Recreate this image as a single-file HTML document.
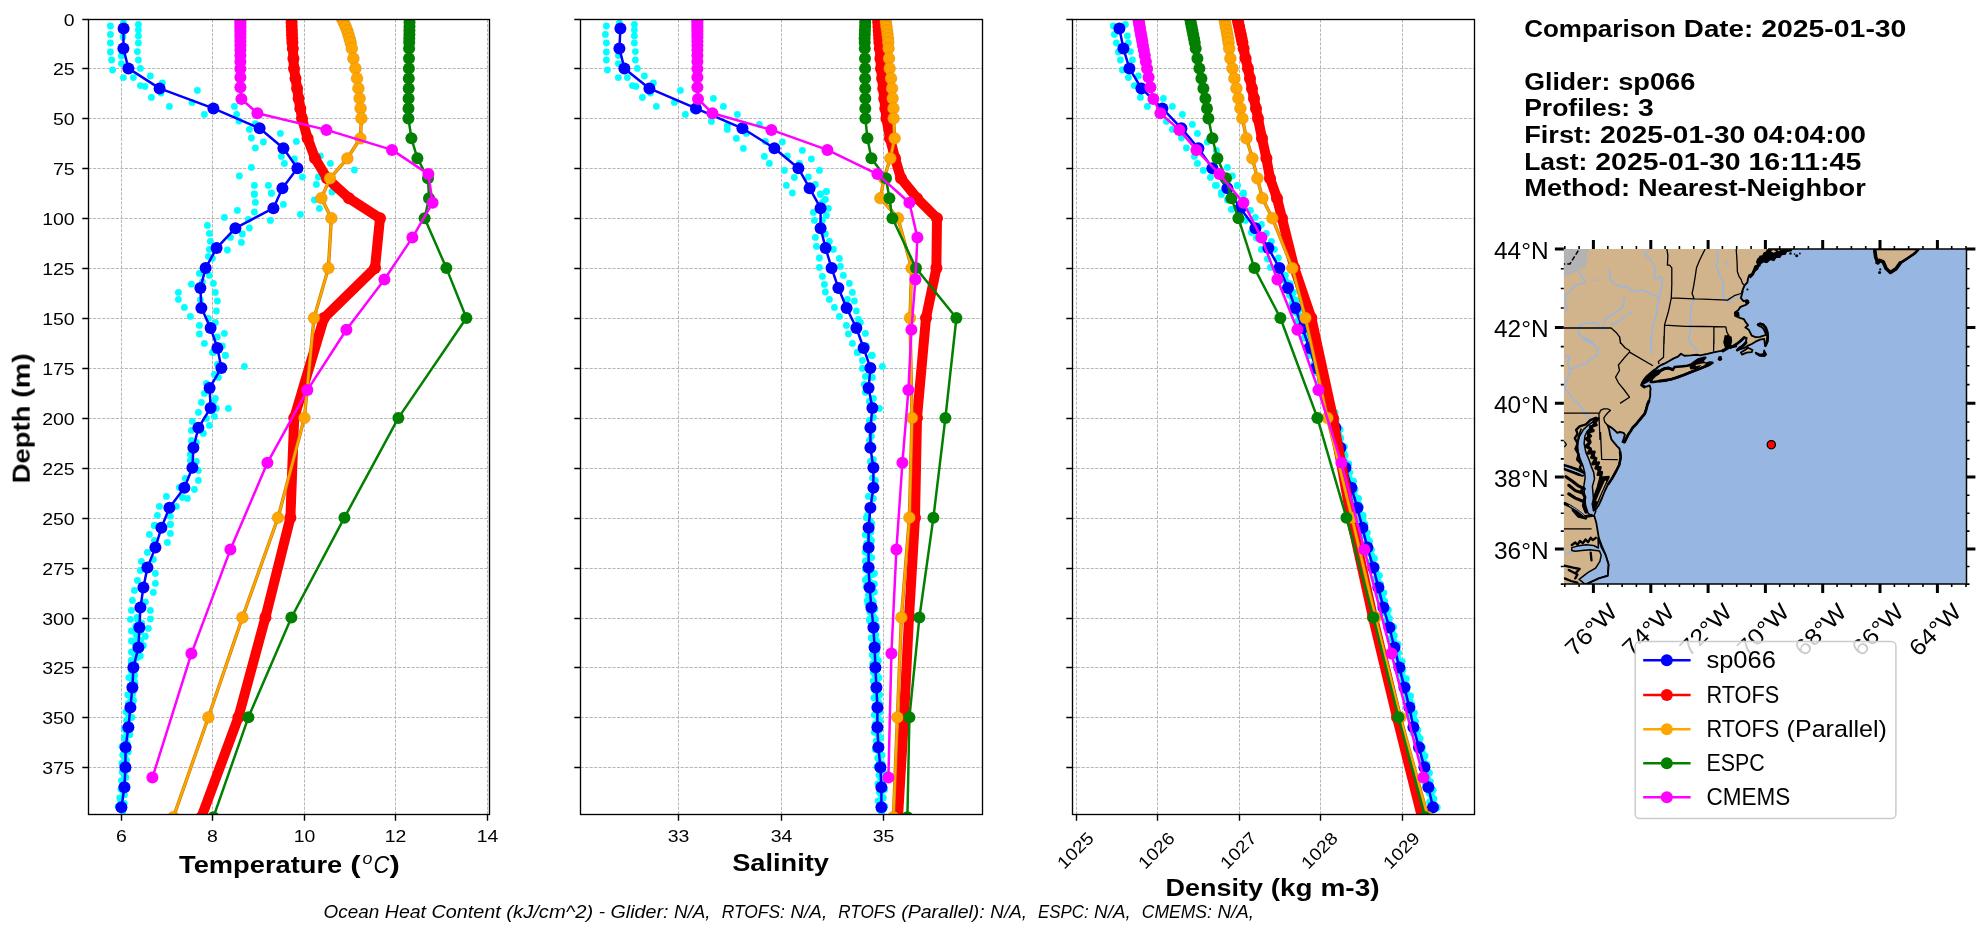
<!DOCTYPE html>
<html lang="en"><head><meta charset="utf-8"><title>Glider vs model profile comparison</title>
<style>html,body{margin:0;padding:0;background:#fff}svg{display:block}text{white-space:pre}</style></head>
<body>
<svg width="1980" height="934" viewBox="0 0 1980 934" font-family="'Liberation Sans', sans-serif">
<rect width="1980" height="934" fill="#fff"/>
<g opacity="0.999">
<clipPath id="cp1"><rect x="88.5" y="19.2" width="401.0" height="795.3"/></clipPath>
<g clip-path="url(#cp1)">
<path d="M121.5 19.5V814.5M212.5 19.5V814.5M304.5 19.5V814.5M395.5 19.5V814.5M487.5 19.5V814.5M88.5 68.5H489.5M88.5 118.5H489.5M88.5 168.5H489.5M88.5 218.5H489.5M88.5 268.5H489.5M88.5 318.5H489.5M88.5 368.5H489.5M88.5 418.5H489.5M88.5 468.5H489.5M88.5 518.5H489.5M88.5 568.5H489.5M88.5 618.5H489.5M88.5 667.5H489.5M88.5 717.5H489.5M88.5 767.5H489.5" stroke="#b0b0b0" stroke-width="0.9" stroke-dasharray="3.2 1.35" fill="none"/>
<g fill="#00ffff"><circle cx="110.4" cy="26.0" r="3.4"/><circle cx="110.4" cy="34.4" r="3.4"/><circle cx="110.4" cy="43.0" r="3.4"/><circle cx="110.4" cy="52.0" r="3.4"/><circle cx="111.6" cy="60.0" r="3.4"/><circle cx="112.6" cy="70.0" r="3.4"/><circle cx="123.4" cy="23.0" r="3.4"/><circle cx="123.0" cy="37.0" r="3.4"/><circle cx="121.4" cy="56.0" r="3.4"/><circle cx="121.4" cy="63.6" r="3.4"/><circle cx="138.4" cy="24.4" r="3.4"/><circle cx="138.4" cy="30.0" r="3.4"/><circle cx="138.4" cy="36.0" r="3.4"/><circle cx="138.4" cy="43.0" r="3.4"/><circle cx="137.4" cy="51.6" r="3.4"/><circle cx="138.4" cy="60.0" r="3.4"/><circle cx="140.4" cy="68.4" r="3.4"/><circle cx="123.4" cy="77.6" r="3.4"/><circle cx="133.4" cy="77.6" r="3.4"/><circle cx="150.4" cy="76.0" r="3.4"/><circle cx="140.4" cy="85.6" r="3.4"/><circle cx="145.0" cy="86.4" r="3.4"/><circle cx="162.4" cy="83.0" r="3.4"/><circle cx="161.0" cy="93.0" r="3.4"/><circle cx="151.4" cy="97.4" r="3.4"/><circle cx="169.4" cy="106.4" r="3.4"/><circle cx="197.4" cy="90.4" r="3.4"/><circle cx="192.0" cy="102.4" r="3.4"/><circle cx="204.4" cy="114.4" r="3.4"/><circle cx="234.4" cy="106.4" r="3.4"/><circle cx="236.6" cy="114.4" r="3.4"/><circle cx="239.0" cy="121.0" r="3.4"/><circle cx="255.4" cy="123.6" r="3.4"/><circle cx="249.4" cy="129.4" r="3.4"/><circle cx="251.4" cy="138.0" r="3.4"/><circle cx="263.4" cy="142.0" r="3.4"/><circle cx="255.4" cy="148.0" r="3.4"/><circle cx="280.4" cy="133.4" r="3.4"/><circle cx="296.4" cy="141.4" r="3.4"/><circle cx="281.4" cy="156.4" r="3.4"/><circle cx="284.4" cy="163.4" r="3.4"/><circle cx="294.4" cy="159.0" r="3.4"/><circle cx="251.4" cy="167.4" r="3.4"/><circle cx="239.4" cy="176.0" r="3.4"/><circle cx="302.4" cy="177.0" r="3.4"/><circle cx="320.4" cy="156.0" r="3.4"/><circle cx="330.4" cy="163.4" r="3.4"/><circle cx="354.4" cy="170.0" r="3.4"/><circle cx="318.4" cy="177.0" r="3.4"/><circle cx="316.4" cy="184.4" r="3.4"/><circle cx="254.4" cy="185.4" r="3.4"/><circle cx="268.4" cy="185.4" r="3.4"/><circle cx="254.4" cy="194.0" r="3.4"/><circle cx="271.4" cy="193.0" r="3.4"/><circle cx="332.0" cy="192.0" r="3.4"/><circle cx="254.4" cy="194.4" r="3.4"/><circle cx="271.4" cy="193.4" r="3.4"/><circle cx="255.4" cy="202.4" r="3.4"/><circle cx="283.4" cy="204.4" r="3.4"/><circle cx="237.4" cy="210.4" r="3.4"/><circle cx="254.4" cy="212.0" r="3.4"/><circle cx="224.4" cy="217.4" r="3.4"/><circle cx="248.4" cy="219.4" r="3.4"/><circle cx="270.4" cy="220.4" r="3.4"/><circle cx="300.4" cy="214.4" r="3.4"/><circle cx="332.4" cy="191.4" r="3.4"/><circle cx="314.4" cy="200.0" r="3.4"/><circle cx="319.4" cy="208.4" r="3.4"/><circle cx="207.4" cy="225.4" r="3.4"/><circle cx="249.4" cy="228.0" r="3.4"/><circle cx="209.4" cy="233.4" r="3.4"/><circle cx="242.4" cy="234.0" r="3.4"/><circle cx="230.4" cy="237.4" r="3.4"/><circle cx="210.4" cy="241.4" r="3.4"/><circle cx="241.4" cy="242.4" r="3.4"/><circle cx="209.4" cy="249.4" r="3.4"/><circle cx="227.4" cy="250.0" r="3.4"/><circle cx="208.4" cy="256.4" r="3.4"/><circle cx="212.4" cy="258.4" r="3.4"/><circle cx="199.4" cy="273.4" r="3.4"/><circle cx="209.4" cy="275.4" r="3.4"/><circle cx="191.4" cy="284.2" r="3.4"/><circle cx="213.4" cy="283.4" r="3.4"/><circle cx="202.4" cy="282.0" r="3.4"/><circle cx="178.4" cy="292.4" r="3.4"/><circle cx="215.4" cy="292.4" r="3.4"/><circle cx="178.4" cy="299.4" r="3.4"/><circle cx="217.4" cy="301.0" r="3.4"/><circle cx="200.4" cy="300.0" r="3.4"/><circle cx="184.4" cy="307.4" r="3.4"/><circle cx="216.4" cy="311.0" r="3.4"/><circle cx="190.4" cy="316.4" r="3.4"/><circle cx="208.4" cy="318.4" r="3.4"/><circle cx="199.4" cy="325.4" r="3.4"/><circle cx="215.4" cy="322.4" r="3.4"/><circle cx="199.4" cy="334.0" r="3.4"/><circle cx="224.4" cy="333.4" r="3.4"/><circle cx="217.4" cy="337.0" r="3.4"/><circle cx="204.4" cy="343.4" r="3.4"/><circle cx="222.4" cy="346.0" r="3.4"/><circle cx="213.4" cy="352.4" r="3.4"/><circle cx="225.4" cy="355.4" r="3.4"/><circle cx="212.4" cy="352.4" r="3.4"/><circle cx="225.4" cy="355.4" r="3.4"/><circle cx="244.4" cy="366.4" r="3.4"/><circle cx="217.4" cy="364.4" r="3.4"/><circle cx="214.4" cy="374.4" r="3.4"/><circle cx="218.4" cy="377.4" r="3.4"/><circle cx="206.4" cy="383.4" r="3.4"/><circle cx="204.4" cy="393.4" r="3.4"/><circle cx="215.4" cy="398.4" r="3.4"/><circle cx="201.4" cy="402.4" r="3.4"/><circle cx="213.4" cy="402.4" r="3.4"/><circle cx="228.4" cy="408.4" r="3.4"/><circle cx="216.4" cy="408.4" r="3.4"/><circle cx="198.4" cy="412.4" r="3.4"/><circle cx="214.4" cy="416.4" r="3.4"/><circle cx="192.4" cy="421.4" r="3.4"/><circle cx="206.4" cy="418.4" r="3.4"/><circle cx="209.4" cy="425.4" r="3.4"/><circle cx="191.4" cy="430.4" r="3.4"/><circle cx="203.4" cy="433.4" r="3.4"/><circle cx="191.4" cy="440.4" r="3.4"/><circle cx="196.4" cy="442.4" r="3.4"/><circle cx="190.4" cy="454.4" r="3.4"/><circle cx="190.4" cy="460.4" r="3.4"/><circle cx="196.4" cy="461.4" r="3.4"/><circle cx="198.4" cy="470.4" r="3.4"/><circle cx="185.4" cy="478.4" r="3.4"/><circle cx="198.4" cy="480.4" r="3.4"/><circle cx="179.4" cy="487.4" r="3.4"/><circle cx="194.4" cy="489.4" r="3.4"/><circle cx="166.4" cy="496.4" r="3.4"/><circle cx="182.4" cy="497.4" r="3.4"/><circle cx="187.4" cy="498.4" r="3.4"/><circle cx="159.4" cy="506.4" r="3.4"/><circle cx="176.4" cy="506.4" r="3.4"/><circle cx="157.4" cy="515.4" r="3.4"/><circle cx="170.4" cy="516.4" r="3.4"/><circle cx="154.4" cy="525.4" r="3.4"/><circle cx="170.4" cy="524.4" r="3.4"/><circle cx="154.4" cy="525.4" r="3.4"/><circle cx="170.4" cy="524.4" r="3.4"/><circle cx="149.4" cy="534.4" r="3.4"/><circle cx="170.4" cy="533.4" r="3.4"/><circle cx="167.4" cy="542.4" r="3.4"/><circle cx="154.4" cy="540.4" r="3.4"/><circle cx="147.4" cy="552.4" r="3.4"/><circle cx="141.4" cy="561.4" r="3.4"/><circle cx="153.4" cy="559.4" r="3.4"/><circle cx="140.4" cy="570.4" r="3.4"/><circle cx="155.4" cy="573.4" r="3.4"/><circle cx="137.4" cy="580.4" r="3.4"/><circle cx="155.4" cy="583.4" r="3.4"/><circle cx="134.4" cy="590.4" r="3.4"/><circle cx="153.4" cy="592.4" r="3.4"/><circle cx="132.4" cy="600.4" r="3.4"/><circle cx="145.4" cy="602.0" r="3.4"/><circle cx="131.4" cy="610.4" r="3.4"/><circle cx="150.4" cy="610.4" r="3.4"/><circle cx="130.4" cy="619.4" r="3.4"/><circle cx="150.4" cy="619.0" r="3.4"/><circle cx="131.4" cy="631.0" r="3.4"/><circle cx="148.4" cy="628.4" r="3.4"/><circle cx="131.4" cy="641.0" r="3.4"/><circle cx="145.4" cy="636.4" r="3.4"/><circle cx="131.4" cy="652.0" r="3.4"/><circle cx="143.4" cy="645.4" r="3.4"/><circle cx="140.4" cy="656.0" r="3.4"/><circle cx="131.4" cy="663.0" r="3.4"/><circle cx="134.4" cy="676.0" r="3.4"/><circle cx="134.4" cy="682.0" r="3.4"/><circle cx="132.4" cy="695.0" r="3.4"/><circle cx="137.1" cy="617.5" r="3.4"/><circle cx="135.8" cy="626.1" r="3.4"/><circle cx="136.4" cy="634.7" r="3.4"/><circle cx="134.8" cy="643.3" r="3.4"/><circle cx="134.8" cy="651.9" r="3.4"/><circle cx="131.2" cy="660.4" r="3.4"/><circle cx="130.9" cy="669.0" r="3.4"/><circle cx="128.9" cy="677.6" r="3.4"/><circle cx="130.1" cy="686.2" r="3.4"/><circle cx="127.7" cy="694.8" r="3.4"/><circle cx="128.4" cy="703.4" r="3.4"/><circle cx="126.0" cy="711.9" r="3.4"/><circle cx="126.6" cy="720.5" r="3.4"/><circle cx="124.3" cy="729.1" r="3.4"/><circle cx="124.3" cy="737.7" r="3.4"/><circle cx="122.0" cy="746.3" r="3.4"/><circle cx="122.7" cy="754.9" r="3.4"/><circle cx="121.9" cy="763.5" r="3.4"/><circle cx="122.2" cy="772.0" r="3.4"/><circle cx="121.4" cy="780.6" r="3.4"/><circle cx="120.9" cy="789.2" r="3.4"/><circle cx="119.7" cy="797.8" r="3.4"/><circle cx="118.1" cy="806.4" r="3.4"/><circle cx="138.0" cy="620.3" r="3.4"/><circle cx="139.1" cy="628.9" r="3.4"/><circle cx="137.1" cy="637.5" r="3.4"/><circle cx="138.2" cy="646.1" r="3.4"/><circle cx="134.9" cy="654.6" r="3.4"/><circle cx="134.0" cy="663.2" r="3.4"/><circle cx="131.7" cy="671.8" r="3.4"/><circle cx="132.2" cy="680.4" r="3.4"/><circle cx="130.9" cy="689.0" r="3.4"/><circle cx="130.6" cy="697.6" r="3.4"/><circle cx="129.4" cy="706.2" r="3.4"/><circle cx="128.7" cy="714.7" r="3.4"/><circle cx="127.9" cy="723.3" r="3.4"/><circle cx="126.6" cy="731.9" r="3.4"/><circle cx="125.8" cy="740.5" r="3.4"/><circle cx="124.2" cy="749.1" r="3.4"/><circle cx="125.0" cy="757.7" r="3.4"/><circle cx="123.9" cy="766.3" r="3.4"/><circle cx="124.6" cy="774.8" r="3.4"/><circle cx="122.9" cy="783.4" r="3.4"/><circle cx="123.4" cy="792.0" r="3.4"/><circle cx="120.6" cy="800.6" r="3.4"/><circle cx="121.2" cy="809.2" r="3.4"/><circle cx="141.7" cy="623.1" r="3.4"/><circle cx="140.8" cy="631.7" r="3.4"/><circle cx="140.6" cy="640.3" r="3.4"/><circle cx="139.9" cy="648.9" r="3.4"/><circle cx="137.5" cy="657.4" r="3.4"/><circle cx="135.8" cy="666.0" r="3.4"/><circle cx="134.5" cy="674.6" r="3.4"/><circle cx="134.9" cy="683.2" r="3.4"/><circle cx="133.2" cy="691.8" r="3.4"/><circle cx="133.5" cy="700.4" r="3.4"/><circle cx="131.4" cy="709.0" r="3.4"/><circle cx="131.9" cy="717.5" r="3.4"/><circle cx="129.6" cy="726.1" r="3.4"/><circle cx="129.9" cy="734.7" r="3.4"/><circle cx="127.2" cy="743.3" r="3.4"/><circle cx="128.2" cy="751.9" r="3.4"/><circle cx="126.5" cy="760.5" r="3.4"/><circle cx="127.9" cy="769.1" r="3.4"/><circle cx="126.0" cy="777.6" r="3.4"/><circle cx="126.9" cy="786.2" r="3.4"/><circle cx="124.5" cy="794.8" r="3.4"/><circle cx="124.3" cy="803.4" r="3.4"/><circle cx="122.8" cy="812.0" r="3.4"/></g>
<polyline points="123.6,28.5 123.4,48.5 128.4,68.4 159.6,88.4 213.4,108.4 259.6,128.3 283.4,148.3 297.4,168.3 282.4,188.2 273.4,208.2 235.4,228.2 216.6,248.1 205.6,268.1 200.4,288.1 201.4,308.0 210.6,328.0 217.4,348.0 221.4,367.9 209.6,387.9 210.6,407.9 198.4,427.8 193.4,447.8 192.4,467.8 184.4,487.7 169.4,507.7 161.4,527.7 155.4,547.6 147.4,567.6 143.4,587.6 140.4,607.5 139.4,627.5 138.4,647.5 133.4,667.4 132.4,687.4 130.4,707.4 128.4,727.3 125.6,747.3 125.4,767.3 124.4,787.2 121.4,807.2" fill="none" stroke="#0000ff" stroke-width="2.5" stroke-linejoin="round"/><g fill="#0000ff"><circle cx="123.6" cy="28.5" r="6"/><circle cx="123.4" cy="48.5" r="6"/><circle cx="128.4" cy="68.4" r="6"/><circle cx="159.6" cy="88.4" r="6"/><circle cx="213.4" cy="108.4" r="6"/><circle cx="259.6" cy="128.3" r="6"/><circle cx="283.4" cy="148.3" r="6"/><circle cx="297.4" cy="168.3" r="6"/><circle cx="282.4" cy="188.2" r="6"/><circle cx="273.4" cy="208.2" r="6"/><circle cx="235.4" cy="228.2" r="6"/><circle cx="216.6" cy="248.1" r="6"/><circle cx="205.6" cy="268.1" r="6"/><circle cx="200.4" cy="288.1" r="6"/><circle cx="201.4" cy="308.0" r="6"/><circle cx="210.6" cy="328.0" r="6"/><circle cx="217.4" cy="348.0" r="6"/><circle cx="221.4" cy="367.9" r="6"/><circle cx="209.6" cy="387.9" r="6"/><circle cx="210.6" cy="407.9" r="6"/><circle cx="198.4" cy="427.8" r="6"/><circle cx="193.4" cy="447.8" r="6"/><circle cx="192.4" cy="467.8" r="6"/><circle cx="184.4" cy="487.7" r="6"/><circle cx="169.4" cy="507.7" r="6"/><circle cx="161.4" cy="527.7" r="6"/><circle cx="155.4" cy="547.6" r="6"/><circle cx="147.4" cy="567.6" r="6"/><circle cx="143.4" cy="587.6" r="6"/><circle cx="140.4" cy="607.5" r="6"/><circle cx="139.4" cy="627.5" r="6"/><circle cx="138.4" cy="647.5" r="6"/><circle cx="133.4" cy="667.4" r="6"/><circle cx="132.4" cy="687.4" r="6"/><circle cx="130.4" cy="707.4" r="6"/><circle cx="128.4" cy="727.3" r="6"/><circle cx="125.6" cy="747.3" r="6"/><circle cx="125.4" cy="767.3" r="6"/><circle cx="124.4" cy="787.2" r="6"/><circle cx="121.4" cy="807.2" r="6"/></g>
<polyline points="291.4,18.5 291.6,22.5 291.7,26.5 291.9,30.5 292.0,34.5 292.2,38.5 292.4,42.5 292.8,48.5 293.4,58.5 294.0,68.4 295.5,78.4 297.1,88.4 298.6,98.4 300.3,108.4 302.0,118.4 307.6,138.3 315.0,158.3 327.0,178.3 349.0,198.2 380.0,218.2 375.0,268.1 324.0,318.0 294.2,417.9 290.4,517.7 265.4,617.5 238.4,717.3 201.4,817.2" fill="none" stroke="#ff0000" stroke-width="10" stroke-linejoin="round"/><g fill="#ff0000"><circle cx="291.4" cy="18.5" r="6"/><circle cx="291.6" cy="22.5" r="6"/><circle cx="291.7" cy="26.5" r="6"/><circle cx="291.9" cy="30.5" r="6"/><circle cx="292.0" cy="34.5" r="6"/><circle cx="292.2" cy="38.5" r="6"/><circle cx="292.4" cy="42.5" r="6"/><circle cx="292.8" cy="48.5" r="6"/><circle cx="293.4" cy="58.5" r="6"/><circle cx="294.0" cy="68.4" r="6"/><circle cx="295.5" cy="78.4" r="6"/><circle cx="297.1" cy="88.4" r="6"/><circle cx="298.6" cy="98.4" r="6"/><circle cx="300.3" cy="108.4" r="6"/><circle cx="302.0" cy="118.4" r="6"/><circle cx="307.6" cy="138.3" r="6"/><circle cx="315.0" cy="158.3" r="6"/><circle cx="327.0" cy="178.3" r="6"/><circle cx="349.0" cy="198.2" r="6"/><circle cx="380.0" cy="218.2" r="6"/><circle cx="375.0" cy="268.1" r="6"/><circle cx="324.0" cy="318.0" r="6"/><circle cx="294.2" cy="417.9" r="6"/><circle cx="290.4" cy="517.7" r="6"/><circle cx="265.4" cy="617.5" r="6"/><circle cx="238.4" cy="717.3" r="6"/><circle cx="201.4" cy="817.2" r="6"/></g>
<polyline points="342.0,18.5 343.8,22.5 345.6,26.5 347.2,30.5 348.4,34.5 349.6,38.5 350.6,42.5 351.8,48.5 353.4,58.5 355.4,68.4 357.0,78.4 358.4,88.4 359.6,98.4 360.6,108.4 361.4,118.4 360.4,138.3 347.4,158.3 330.0,178.3 321.4,198.2 331.4,218.2 328.4,268.1 314.0,318.0 304.4,417.9 278.0,517.7 242.4,617.5 208.4,717.3 173.4,817.2" fill="none" stroke="#c27c00" stroke-width="3.4" stroke-linejoin="round"/><polyline points="342.0,18.5 343.8,22.5 345.6,26.5 347.2,30.5 348.4,34.5 349.6,38.5 350.6,42.5 351.8,48.5 353.4,58.5 355.4,68.4 357.0,78.4 358.4,88.4 359.6,98.4 360.6,108.4 361.4,118.4 360.4,138.3 347.4,158.3 330.0,178.3 321.4,198.2 331.4,218.2 328.4,268.1 314.0,318.0 304.4,417.9 278.0,517.7 242.4,617.5 208.4,717.3 173.4,817.2" fill="none" stroke="#ffa500" stroke-width="2.2" stroke-linejoin="round"/><g fill="#ffa500" stroke="#cf8600" stroke-width="0.4"><circle cx="342.0" cy="18.5" r="5.9"/><circle cx="343.8" cy="22.5" r="5.9"/><circle cx="345.6" cy="26.5" r="5.9"/><circle cx="347.2" cy="30.5" r="5.9"/><circle cx="348.4" cy="34.5" r="5.9"/><circle cx="349.6" cy="38.5" r="5.9"/><circle cx="350.6" cy="42.5" r="5.9"/><circle cx="351.8" cy="48.5" r="5.9"/><circle cx="353.4" cy="58.5" r="5.9"/><circle cx="355.4" cy="68.4" r="5.9"/><circle cx="357.0" cy="78.4" r="5.9"/><circle cx="358.4" cy="88.4" r="5.9"/><circle cx="359.6" cy="98.4" r="5.9"/><circle cx="360.6" cy="108.4" r="5.9"/><circle cx="361.4" cy="118.4" r="5.9"/><circle cx="360.4" cy="138.3" r="5.9"/><circle cx="347.4" cy="158.3" r="5.9"/><circle cx="330.0" cy="178.3" r="5.9"/><circle cx="321.4" cy="198.2" r="5.9"/><circle cx="331.4" cy="218.2" r="5.9"/><circle cx="328.4" cy="268.1" r="5.9"/><circle cx="314.0" cy="318.0" r="5.9"/><circle cx="304.4" cy="417.9" r="5.9"/><circle cx="278.0" cy="517.7" r="5.9"/><circle cx="242.4" cy="617.5" r="5.9"/><circle cx="208.4" cy="717.3" r="5.9"/><circle cx="173.4" cy="817.2" r="5.9"/></g>
<polyline points="409.6,18.5 409.5,22.5 409.5,26.5 409.4,30.5 409.4,34.5 409.3,38.5 409.2,42.5 409.1,48.5 409.0,58.5 408.9,68.4 408.8,78.4 408.7,88.4 408.6,98.4 408.5,108.4 408.4,118.4 411.4,138.3 417.4,158.3 428.0,178.3 429.0,198.2 424.6,218.2 446.4,268.1 466.4,318.0 398.4,417.9 344.4,517.7 291.4,617.5 248.4,717.3 213.4,817.2" fill="none" stroke="#008000" stroke-width="2.5" stroke-linejoin="round"/><g fill="#008000"><circle cx="409.6" cy="18.5" r="6"/><circle cx="409.5" cy="22.5" r="6"/><circle cx="409.5" cy="26.5" r="6"/><circle cx="409.4" cy="30.5" r="6"/><circle cx="409.4" cy="34.5" r="6"/><circle cx="409.3" cy="38.5" r="6"/><circle cx="409.2" cy="42.5" r="6"/><circle cx="409.1" cy="48.5" r="6"/><circle cx="409.0" cy="58.5" r="6"/><circle cx="408.9" cy="68.4" r="6"/><circle cx="408.8" cy="78.4" r="6"/><circle cx="408.7" cy="88.4" r="6"/><circle cx="408.6" cy="98.4" r="6"/><circle cx="408.5" cy="108.4" r="6"/><circle cx="408.4" cy="118.4" r="6"/><circle cx="411.4" cy="138.3" r="6"/><circle cx="417.4" cy="158.3" r="6"/><circle cx="428.0" cy="178.3" r="6"/><circle cx="429.0" cy="198.2" r="6"/><circle cx="424.6" cy="218.2" r="6"/><circle cx="446.4" cy="268.1" r="6"/><circle cx="466.4" cy="318.0" r="6"/><circle cx="398.4" cy="417.9" r="6"/><circle cx="344.4" cy="517.7" r="6"/><circle cx="291.4" cy="617.5" r="6"/><circle cx="248.4" cy="717.3" r="6"/><circle cx="213.4" cy="817.2" r="6"/></g>
<polyline points="240.4,19.5 240.4,21.6 240.4,23.8 240.4,26.2 240.4,28.7 240.4,31.4 240.4,34.4 240.4,37.6 240.4,41.3 240.4,45.4 240.4,50.1 240.4,55.5 240.4,61.7 240.4,68.8 240.4,77.2 240.4,87.2 241.4,99.0 257.4,113.2 326.4,129.9 392.0,149.9 428.4,174.1 432.6,202.8 412.4,237.6 384.4,279.5 346.4,329.8 307.4,390.1 267.4,462.8 230.4,549.6 191.4,653.6 152.4,777.6" fill="none" stroke="#ff00ff" stroke-width="2.5" stroke-linejoin="round"/><g fill="#ff00ff"><circle cx="240.4" cy="19.5" r="6"/><circle cx="240.4" cy="21.6" r="6"/><circle cx="240.4" cy="23.8" r="6"/><circle cx="240.4" cy="26.2" r="6"/><circle cx="240.4" cy="28.7" r="6"/><circle cx="240.4" cy="31.4" r="6"/><circle cx="240.4" cy="34.4" r="6"/><circle cx="240.4" cy="37.6" r="6"/><circle cx="240.4" cy="41.3" r="6"/><circle cx="240.4" cy="45.4" r="6"/><circle cx="240.4" cy="50.1" r="6"/><circle cx="240.4" cy="55.5" r="6"/><circle cx="240.4" cy="61.7" r="6"/><circle cx="240.4" cy="68.8" r="6"/><circle cx="240.4" cy="77.2" r="6"/><circle cx="240.4" cy="87.2" r="6"/><circle cx="241.4" cy="99.0" r="6"/><circle cx="257.4" cy="113.2" r="6"/><circle cx="326.4" cy="129.9" r="6"/><circle cx="392.0" cy="149.9" r="6"/><circle cx="428.4" cy="174.1" r="6"/><circle cx="432.6" cy="202.8" r="6"/><circle cx="412.4" cy="237.6" r="6"/><circle cx="384.4" cy="279.5" r="6"/><circle cx="346.4" cy="329.8" r="6"/><circle cx="307.4" cy="390.1" r="6"/><circle cx="267.4" cy="462.8" r="6"/><circle cx="230.4" cy="549.6" r="6"/><circle cx="191.4" cy="653.6" r="6"/><circle cx="152.4" cy="777.6" r="6"/></g>
</g>
<rect x="88.5" y="19.5" width="401.0" height="795.0" fill="none" stroke="#000" stroke-width="1.35"/>
<path d="M121.5 814.5v6.2M212.5 814.5v6.2M304.5 814.5v6.2M395.5 814.5v6.2M487.5 814.5v6.2M88.5 19.5h-6.2M88.5 68.5h-6.2M88.5 118.5h-6.2M88.5 168.5h-6.2M88.5 218.5h-6.2M88.5 268.5h-6.2M88.5 318.5h-6.2M88.5 368.5h-6.2M88.5 418.5h-6.2M88.5 468.5h-6.2M88.5 518.5h-6.2M88.5 568.5h-6.2M88.5 618.5h-6.2M88.5 667.5h-6.2M88.5 717.5h-6.2M88.5 767.5h-6.2" stroke="#000" stroke-width="1.4" fill="none"/>
<text x="116.09" y="841.60" font-size="17.31" textLength="10.82" lengthAdjust="spacingAndGlyphs" fill="#000">6</text>
<text x="207.09" y="841.60" font-size="17.31" textLength="10.82" lengthAdjust="spacingAndGlyphs" fill="#000">8</text>
<text x="293.68" y="841.60" font-size="17.31" textLength="21.63" lengthAdjust="spacingAndGlyphs" fill="#000">10</text>
<text x="384.68" y="841.60" font-size="17.31" textLength="21.63" lengthAdjust="spacingAndGlyphs" fill="#000">12</text>
<text x="476.68" y="841.60" font-size="17.31" textLength="21.63" lengthAdjust="spacingAndGlyphs" fill="#000">14</text>
<text x="63.78" y="25.80" font-size="17.31" textLength="10.82" lengthAdjust="spacingAndGlyphs" fill="#000">0</text>
<text x="52.97" y="74.80" font-size="17.31" textLength="21.63" lengthAdjust="spacingAndGlyphs" fill="#000">25</text>
<text x="52.97" y="124.80" font-size="17.31" textLength="21.63" lengthAdjust="spacingAndGlyphs" fill="#000">50</text>
<text x="52.97" y="174.80" font-size="17.31" textLength="21.63" lengthAdjust="spacingAndGlyphs" fill="#000">75</text>
<text x="42.15" y="224.80" font-size="17.31" textLength="32.45" lengthAdjust="spacingAndGlyphs" fill="#000">100</text>
<text x="42.15" y="274.80" font-size="17.31" textLength="32.45" lengthAdjust="spacingAndGlyphs" fill="#000">125</text>
<text x="42.15" y="324.80" font-size="17.31" textLength="32.45" lengthAdjust="spacingAndGlyphs" fill="#000">150</text>
<text x="42.15" y="374.80" font-size="17.31" textLength="32.45" lengthAdjust="spacingAndGlyphs" fill="#000">175</text>
<text x="42.15" y="424.80" font-size="17.31" textLength="32.45" lengthAdjust="spacingAndGlyphs" fill="#000">200</text>
<text x="42.15" y="474.80" font-size="17.31" textLength="32.45" lengthAdjust="spacingAndGlyphs" fill="#000">225</text>
<text x="42.15" y="524.80" font-size="17.31" textLength="32.45" lengthAdjust="spacingAndGlyphs" fill="#000">250</text>
<text x="42.15" y="574.80" font-size="17.31" textLength="32.45" lengthAdjust="spacingAndGlyphs" fill="#000">275</text>
<text x="42.15" y="624.80" font-size="17.31" textLength="32.45" lengthAdjust="spacingAndGlyphs" fill="#000">300</text>
<text x="42.15" y="673.80" font-size="17.31" textLength="32.45" lengthAdjust="spacingAndGlyphs" fill="#000">325</text>
<text x="42.15" y="723.80" font-size="17.31" textLength="32.45" lengthAdjust="spacingAndGlyphs" fill="#000">350</text>
<text x="42.15" y="773.80" font-size="17.31" textLength="32.45" lengthAdjust="spacingAndGlyphs" fill="#000">375</text>
<clipPath id="cp2"><rect x="580.5" y="19.2" width="402.0" height="795.3"/></clipPath>
<g clip-path="url(#cp2)">
<path d="M678.5 19.5V814.5M781.5 19.5V814.5M883.5 19.5V814.5M580.5 68.5H982.5M580.5 118.5H982.5M580.5 168.5H982.5M580.5 218.5H982.5M580.5 268.5H982.5M580.5 318.5H982.5M580.5 368.5H982.5M580.5 418.5H982.5M580.5 468.5H982.5M580.5 518.5H982.5M580.5 568.5H982.5M580.5 618.5H982.5M580.5 667.5H982.5M580.5 717.5H982.5M580.5 767.5H982.5" stroke="#b0b0b0" stroke-width="0.9" stroke-dasharray="3.2 1.35" fill="none"/>
<g fill="#00ffff"><circle cx="606.4" cy="26.0" r="3.4"/><circle cx="605.4" cy="34.4" r="3.4"/><circle cx="606.4" cy="43.0" r="3.4"/><circle cx="606.4" cy="52.0" r="3.4"/><circle cx="606.4" cy="60.0" r="3.4"/><circle cx="607.4" cy="70.0" r="3.4"/><circle cx="619.4" cy="23.0" r="3.4"/><circle cx="634.4" cy="24.4" r="3.4"/><circle cx="634.4" cy="30.0" r="3.4"/><circle cx="634.4" cy="36.0" r="3.4"/><circle cx="634.4" cy="43.0" r="3.4"/><circle cx="635.4" cy="51.6" r="3.4"/><circle cx="635.4" cy="60.0" r="3.4"/><circle cx="637.4" cy="68.4" r="3.4"/><circle cx="618.4" cy="55.6" r="3.4"/><circle cx="618.4" cy="63.6" r="3.4"/><circle cx="618.4" cy="77.6" r="3.4"/><circle cx="627.4" cy="77.6" r="3.4"/><circle cx="644.4" cy="76.0" r="3.4"/><circle cx="632.4" cy="85.6" r="3.4"/><circle cx="636.0" cy="86.4" r="3.4"/><circle cx="653.4" cy="83.0" r="3.4"/><circle cx="650.4" cy="93.0" r="3.4"/><circle cx="642.4" cy="97.4" r="3.4"/><circle cx="656.4" cy="106.4" r="3.4"/><circle cx="680.4" cy="90.4" r="3.4"/><circle cx="674.4" cy="102.4" r="3.4"/><circle cx="685.4" cy="114.4" r="3.4"/><circle cx="693.4" cy="109.4" r="3.4"/><circle cx="713.4" cy="98.4" r="3.4"/><circle cx="723.4" cy="106.4" r="3.4"/><circle cx="737.4" cy="114.4" r="3.4"/><circle cx="711.4" cy="121.4" r="3.4"/><circle cx="727.4" cy="125.4" r="3.4"/><circle cx="727.4" cy="129.4" r="3.4"/><circle cx="759.4" cy="124.4" r="3.4"/><circle cx="736.4" cy="138.4" r="3.4"/><circle cx="746.4" cy="133.4" r="3.4"/><circle cx="743.4" cy="148.4" r="3.4"/><circle cx="765.4" cy="141.4" r="3.4"/><circle cx="782.4" cy="142.0" r="3.4"/><circle cx="764.4" cy="156.4" r="3.4"/><circle cx="769.4" cy="163.4" r="3.4"/><circle cx="787.4" cy="156.0" r="3.4"/><circle cx="802.4" cy="150.4" r="3.4"/><circle cx="811.4" cy="159.0" r="3.4"/><circle cx="799.4" cy="163.4" r="3.4"/><circle cx="784.4" cy="170.4" r="3.4"/><circle cx="819.4" cy="170.4" r="3.4"/><circle cx="794.4" cy="177.4" r="3.4"/><circle cx="808.4" cy="177.0" r="3.4"/><circle cx="786.4" cy="185.4" r="3.4"/><circle cx="815.4" cy="184.4" r="3.4"/><circle cx="792.4" cy="193.0" r="3.4"/><circle cx="820.4" cy="194.0" r="3.4"/><circle cx="826.4" cy="191.6" r="3.4"/><circle cx="826.4" cy="191.4" r="3.4"/><circle cx="820.4" cy="194.4" r="3.4"/><circle cx="825.4" cy="199.4" r="3.4"/><circle cx="822.4" cy="202.4" r="3.4"/><circle cx="828.4" cy="208.4" r="3.4"/><circle cx="813.4" cy="212.4" r="3.4"/><circle cx="826.4" cy="215.4" r="3.4"/><circle cx="814.4" cy="220.4" r="3.4"/><circle cx="822.4" cy="220.4" r="3.4"/><circle cx="815.4" cy="237.4" r="3.4"/><circle cx="825.4" cy="234.0" r="3.4"/><circle cx="829.4" cy="241.4" r="3.4"/><circle cx="816.4" cy="246.4" r="3.4"/><circle cx="833.4" cy="249.4" r="3.4"/><circle cx="819.4" cy="258.0" r="3.4"/><circle cx="839.4" cy="258.4" r="3.4"/><circle cx="819.4" cy="267.4" r="3.4"/><circle cx="840.4" cy="266.4" r="3.4"/><circle cx="822.4" cy="276.4" r="3.4"/><circle cx="843.4" cy="275.4" r="3.4"/><circle cx="824.4" cy="284.4" r="3.4"/><circle cx="849.4" cy="283.4" r="3.4"/><circle cx="825.4" cy="292.0" r="3.4"/><circle cx="852.4" cy="292.4" r="3.4"/><circle cx="829.4" cy="299.4" r="3.4"/><circle cx="854.4" cy="301.0" r="3.4"/><circle cx="847.4" cy="299.4" r="3.4"/><circle cx="834.4" cy="307.4" r="3.4"/><circle cx="856.4" cy="311.0" r="3.4"/><circle cx="839.4" cy="316.4" r="3.4"/><circle cx="858.4" cy="319.4" r="3.4"/><circle cx="846.4" cy="325.4" r="3.4"/><circle cx="860.4" cy="322.4" r="3.4"/><circle cx="848.4" cy="334.0" r="3.4"/><circle cx="865.4" cy="333.4" r="3.4"/><circle cx="852.4" cy="343.4" r="3.4"/><circle cx="866.4" cy="346.0" r="3.4"/><circle cx="857.4" cy="352.4" r="3.4"/><circle cx="871.4" cy="355.4" r="3.4"/><circle cx="857.4" cy="352.4" r="3.4"/><circle cx="872.4" cy="355.4" r="3.4"/><circle cx="862.4" cy="360.4" r="3.4"/><circle cx="882.4" cy="366.4" r="3.4"/><circle cx="862.4" cy="368.4" r="3.4"/><circle cx="865.4" cy="376.4" r="3.4"/><circle cx="872.4" cy="377.4" r="3.4"/><circle cx="864.4" cy="384.4" r="3.4"/><circle cx="865.4" cy="392.4" r="3.4"/><circle cx="873.4" cy="398.4" r="3.4"/><circle cx="869.4" cy="401.4" r="3.4"/><circle cx="879.4" cy="408.4" r="3.4"/><circle cx="873.4" cy="417.4" r="3.4"/><circle cx="869.4" cy="420.4" r="3.4"/><circle cx="871.4" cy="436.4" r="3.4"/><circle cx="869.4" cy="440.4" r="3.4"/><circle cx="873.4" cy="459.4" r="3.4"/><circle cx="870.4" cy="461.4" r="3.4"/><circle cx="875.4" cy="480.4" r="3.4"/><circle cx="872.4" cy="478.0" r="3.4"/><circle cx="868.4" cy="496.4" r="3.4"/><circle cx="873.4" cy="498.4" r="3.4"/><circle cx="867.4" cy="515.4" r="3.4"/><circle cx="870.4" cy="523.4" r="3.4"/><circle cx="867.4" cy="534.0" r="3.4"/><circle cx="867.4" cy="534.4" r="3.4"/><circle cx="870.4" cy="542.4" r="3.4"/><circle cx="865.4" cy="561.0" r="3.4"/><circle cx="874.4" cy="573.4" r="3.4"/><circle cx="865.4" cy="580.0" r="3.4"/><circle cx="874.4" cy="584.0" r="3.4"/><circle cx="874.4" cy="592.0" r="3.4"/><circle cx="867.4" cy="600.4" r="3.4"/><circle cx="873.4" cy="602.0" r="3.4"/><circle cx="875.4" cy="619.4" r="3.4"/><circle cx="869.4" cy="619.4" r="3.4"/><circle cx="876.4" cy="640.4" r="3.4"/><circle cx="876.4" cy="658.0" r="3.4"/><circle cx="877.4" cy="676.0" r="3.4"/><circle cx="877.4" cy="694.0" r="3.4"/><circle cx="866.3" cy="517.7" r="3.4"/><circle cx="866.8" cy="526.3" r="3.4"/><circle cx="865.3" cy="534.9" r="3.4"/><circle cx="866.8" cy="543.4" r="3.4"/><circle cx="865.2" cy="552.0" r="3.4"/><circle cx="866.8" cy="560.6" r="3.4"/><circle cx="865.3" cy="569.2" r="3.4"/><circle cx="867.3" cy="577.8" r="3.4"/><circle cx="866.2" cy="586.4" r="3.4"/><circle cx="868.4" cy="594.9" r="3.4"/><circle cx="867.8" cy="603.5" r="3.4"/><circle cx="869.8" cy="612.1" r="3.4"/><circle cx="869.6" cy="620.7" r="3.4"/><circle cx="871.3" cy="629.3" r="3.4"/><circle cx="871.1" cy="637.9" r="3.4"/><circle cx="872.1" cy="646.5" r="3.4"/><circle cx="872.2" cy="655.0" r="3.4"/><circle cx="872.6" cy="663.6" r="3.4"/><circle cx="873.2" cy="672.2" r="3.4"/><circle cx="873.2" cy="680.8" r="3.4"/><circle cx="874.2" cy="689.4" r="3.4"/><circle cx="873.9" cy="698.0" r="3.4"/><circle cx="875.3" cy="706.6" r="3.4"/><circle cx="874.2" cy="715.1" r="3.4"/><circle cx="875.4" cy="723.7" r="3.4"/><circle cx="874.3" cy="732.3" r="3.4"/><circle cx="876.2" cy="740.9" r="3.4"/><circle cx="875.2" cy="749.5" r="3.4"/><circle cx="877.7" cy="758.1" r="3.4"/><circle cx="876.9" cy="766.7" r="3.4"/><circle cx="879.0" cy="775.2" r="3.4"/><circle cx="877.9" cy="783.8" r="3.4"/><circle cx="879.5" cy="792.4" r="3.4"/><circle cx="878.1" cy="801.0" r="3.4"/><circle cx="879.4" cy="809.6" r="3.4"/><circle cx="869.9" cy="520.5" r="3.4"/><circle cx="868.0" cy="529.1" r="3.4"/><circle cx="869.2" cy="537.6" r="3.4"/><circle cx="868.1" cy="546.2" r="3.4"/><circle cx="869.0" cy="554.8" r="3.4"/><circle cx="868.3" cy="563.4" r="3.4"/><circle cx="869.0" cy="572.0" r="3.4"/><circle cx="869.1" cy="580.6" r="3.4"/><circle cx="869.7" cy="589.2" r="3.4"/><circle cx="870.6" cy="597.7" r="3.4"/><circle cx="871.1" cy="606.3" r="3.4"/><circle cx="872.4" cy="614.9" r="3.4"/><circle cx="872.6" cy="623.5" r="3.4"/><circle cx="874.2" cy="632.1" r="3.4"/><circle cx="873.6" cy="640.7" r="3.4"/><circle cx="875.3" cy="649.3" r="3.4"/><circle cx="874.3" cy="657.8" r="3.4"/><circle cx="876.1" cy="666.4" r="3.4"/><circle cx="875.0" cy="675.0" r="3.4"/><circle cx="877.0" cy="683.6" r="3.4"/><circle cx="875.8" cy="692.2" r="3.4"/><circle cx="877.9" cy="700.8" r="3.4"/><circle cx="876.6" cy="709.4" r="3.4"/><circle cx="878.1" cy="717.9" r="3.4"/><circle cx="876.7" cy="726.5" r="3.4"/><circle cx="878.4" cy="735.1" r="3.4"/><circle cx="877.7" cy="743.7" r="3.4"/><circle cx="879.4" cy="752.3" r="3.4"/><circle cx="879.4" cy="760.9" r="3.4"/><circle cx="880.8" cy="769.5" r="3.4"/><circle cx="880.7" cy="778.0" r="3.4"/><circle cx="881.5" cy="786.6" r="3.4"/><circle cx="881.4" cy="795.2" r="3.4"/><circle cx="881.3" cy="803.8" r="3.4"/><circle cx="881.6" cy="812.4" r="3.4"/><circle cx="871.7" cy="523.3" r="3.4"/><circle cx="871.0" cy="531.9" r="3.4"/><circle cx="871.5" cy="540.4" r="3.4"/><circle cx="870.8" cy="549.0" r="3.4"/><circle cx="871.7" cy="557.6" r="3.4"/><circle cx="870.6" cy="566.2" r="3.4"/><circle cx="872.2" cy="574.8" r="3.4"/><circle cx="871.3" cy="583.4" r="3.4"/><circle cx="873.3" cy="592.0" r="3.4"/><circle cx="872.6" cy="600.5" r="3.4"/><circle cx="875.0" cy="609.1" r="3.4"/><circle cx="874.2" cy="617.7" r="3.4"/><circle cx="876.7" cy="626.3" r="3.4"/><circle cx="875.7" cy="634.9" r="3.4"/><circle cx="877.7" cy="643.5" r="3.4"/><circle cx="876.7" cy="652.1" r="3.4"/><circle cx="878.4" cy="660.6" r="3.4"/><circle cx="877.5" cy="669.2" r="3.4"/><circle cx="879.0" cy="677.8" r="3.4"/><circle cx="878.5" cy="686.4" r="3.4"/><circle cx="879.7" cy="695.0" r="3.4"/><circle cx="879.6" cy="703.6" r="3.4"/><circle cx="880.1" cy="712.1" r="3.4"/><circle cx="880.0" cy="720.7" r="3.4"/><circle cx="880.0" cy="729.3" r="3.4"/><circle cx="880.7" cy="737.9" r="3.4"/><circle cx="880.7" cy="746.5" r="3.4"/><circle cx="882.2" cy="755.1" r="3.4"/><circle cx="882.2" cy="763.7" r="3.4"/><circle cx="883.8" cy="772.2" r="3.4"/><circle cx="883.0" cy="780.8" r="3.4"/><circle cx="884.7" cy="789.4" r="3.4"/><circle cx="883.3" cy="798.0" r="3.4"/><circle cx="884.8" cy="806.6" r="3.4"/></g>
<polyline points="620.4,28.5 619.4,48.5 624.4,68.4 649.4,88.4 696.0,108.4 742.4,128.3 774.4,148.3 798.4,168.3 809.6,188.2 820.6,208.2 820.6,228.2 825.6,248.1 831.6,268.1 838.4,288.1 846.6,308.0 856.4,328.0 863.6,348.0 870.4,367.9 868.6,387.9 872.4,407.9 870.4,427.8 870.4,447.8 873.4,467.8 873.4,487.7 870.4,507.7 868.6,527.7 868.6,547.6 868.6,567.6 869.6,587.6 871.4,607.5 873.4,627.5 874.6,647.5 875.4,667.4 876.4,687.4 877.4,707.4 877.4,727.3 878.4,747.3 880.4,767.3 881.4,787.2 881.4,807.2" fill="none" stroke="#0000ff" stroke-width="2.5" stroke-linejoin="round"/><g fill="#0000ff"><circle cx="620.4" cy="28.5" r="6"/><circle cx="619.4" cy="48.5" r="6"/><circle cx="624.4" cy="68.4" r="6"/><circle cx="649.4" cy="88.4" r="6"/><circle cx="696.0" cy="108.4" r="6"/><circle cx="742.4" cy="128.3" r="6"/><circle cx="774.4" cy="148.3" r="6"/><circle cx="798.4" cy="168.3" r="6"/><circle cx="809.6" cy="188.2" r="6"/><circle cx="820.6" cy="208.2" r="6"/><circle cx="820.6" cy="228.2" r="6"/><circle cx="825.6" cy="248.1" r="6"/><circle cx="831.6" cy="268.1" r="6"/><circle cx="838.4" cy="288.1" r="6"/><circle cx="846.6" cy="308.0" r="6"/><circle cx="856.4" cy="328.0" r="6"/><circle cx="863.6" cy="348.0" r="6"/><circle cx="870.4" cy="367.9" r="6"/><circle cx="868.6" cy="387.9" r="6"/><circle cx="872.4" cy="407.9" r="6"/><circle cx="870.4" cy="427.8" r="6"/><circle cx="870.4" cy="447.8" r="6"/><circle cx="873.4" cy="467.8" r="6"/><circle cx="873.4" cy="487.7" r="6"/><circle cx="870.4" cy="507.7" r="6"/><circle cx="868.6" cy="527.7" r="6"/><circle cx="868.6" cy="547.6" r="6"/><circle cx="868.6" cy="567.6" r="6"/><circle cx="869.6" cy="587.6" r="6"/><circle cx="871.4" cy="607.5" r="6"/><circle cx="873.4" cy="627.5" r="6"/><circle cx="874.6" cy="647.5" r="6"/><circle cx="875.4" cy="667.4" r="6"/><circle cx="876.4" cy="687.4" r="6"/><circle cx="877.4" cy="707.4" r="6"/><circle cx="877.4" cy="727.3" r="6"/><circle cx="878.4" cy="747.3" r="6"/><circle cx="880.4" cy="767.3" r="6"/><circle cx="881.4" cy="787.2" r="6"/><circle cx="881.4" cy="807.2" r="6"/></g>
<polyline points="878.0,18.5 878.2,22.5 878.5,26.5 878.7,30.5 879.0,34.5 879.2,38.5 879.4,42.5 879.8,48.5 880.4,58.5 881.0,68.4 882.1,78.4 883.2,88.4 884.2,98.4 885.3,108.4 886.4,118.4 890.0,138.3 895.0,158.3 901.0,178.3 917.0,198.2 937.0,218.2 936.4,268.1 926.0,318.0 917.0,417.9 915.0,517.7 909.0,617.5 904.0,717.3 898.0,817.2" fill="none" stroke="#ff0000" stroke-width="10" stroke-linejoin="round"/><g fill="#ff0000"><circle cx="878.0" cy="18.5" r="6"/><circle cx="878.2" cy="22.5" r="6"/><circle cx="878.5" cy="26.5" r="6"/><circle cx="878.7" cy="30.5" r="6"/><circle cx="879.0" cy="34.5" r="6"/><circle cx="879.2" cy="38.5" r="6"/><circle cx="879.4" cy="42.5" r="6"/><circle cx="879.8" cy="48.5" r="6"/><circle cx="880.4" cy="58.5" r="6"/><circle cx="881.0" cy="68.4" r="6"/><circle cx="882.1" cy="78.4" r="6"/><circle cx="883.2" cy="88.4" r="6"/><circle cx="884.2" cy="98.4" r="6"/><circle cx="885.3" cy="108.4" r="6"/><circle cx="886.4" cy="118.4" r="6"/><circle cx="890.0" cy="138.3" r="6"/><circle cx="895.0" cy="158.3" r="6"/><circle cx="901.0" cy="178.3" r="6"/><circle cx="917.0" cy="198.2" r="6"/><circle cx="937.0" cy="218.2" r="6"/><circle cx="936.4" cy="268.1" r="6"/><circle cx="926.0" cy="318.0" r="6"/><circle cx="917.0" cy="417.9" r="6"/><circle cx="915.0" cy="517.7" r="6"/><circle cx="909.0" cy="617.5" r="6"/><circle cx="904.0" cy="717.3" r="6"/><circle cx="898.0" cy="817.2" r="6"/></g>
<polyline points="885.4,18.5 885.9,22.5 886.4,26.5 887.0,30.5 887.5,34.5 888.0,38.5 888.2,42.5 888.5,48.5 889.0,58.5 889.6,68.4 891.0,78.4 892.0,88.4 892.6,98.4 893.4,108.4 893.6,118.4 894.6,138.3 890.4,158.3 884.0,178.3 880.4,198.2 898.0,218.2 911.6,268.1 910.0,318.0 912.0,417.9 909.4,517.7 901.4,617.5 897.4,717.3 893.4,817.2" fill="none" stroke="#c27c00" stroke-width="3.4" stroke-linejoin="round"/><polyline points="885.4,18.5 885.9,22.5 886.4,26.5 887.0,30.5 887.5,34.5 888.0,38.5 888.2,42.5 888.5,48.5 889.0,58.5 889.6,68.4 891.0,78.4 892.0,88.4 892.6,98.4 893.4,108.4 893.6,118.4 894.6,138.3 890.4,158.3 884.0,178.3 880.4,198.2 898.0,218.2 911.6,268.1 910.0,318.0 912.0,417.9 909.4,517.7 901.4,617.5 897.4,717.3 893.4,817.2" fill="none" stroke="#ffa500" stroke-width="2.2" stroke-linejoin="round"/><g fill="#ffa500" stroke="#cf8600" stroke-width="0.4"><circle cx="885.4" cy="18.5" r="5.9"/><circle cx="885.9" cy="22.5" r="5.9"/><circle cx="886.4" cy="26.5" r="5.9"/><circle cx="887.0" cy="30.5" r="5.9"/><circle cx="887.5" cy="34.5" r="5.9"/><circle cx="888.0" cy="38.5" r="5.9"/><circle cx="888.2" cy="42.5" r="5.9"/><circle cx="888.5" cy="48.5" r="5.9"/><circle cx="889.0" cy="58.5" r="5.9"/><circle cx="889.6" cy="68.4" r="5.9"/><circle cx="891.0" cy="78.4" r="5.9"/><circle cx="892.0" cy="88.4" r="5.9"/><circle cx="892.6" cy="98.4" r="5.9"/><circle cx="893.4" cy="108.4" r="5.9"/><circle cx="893.6" cy="118.4" r="5.9"/><circle cx="894.6" cy="138.3" r="5.9"/><circle cx="890.4" cy="158.3" r="5.9"/><circle cx="884.0" cy="178.3" r="5.9"/><circle cx="880.4" cy="198.2" r="5.9"/><circle cx="898.0" cy="218.2" r="5.9"/><circle cx="911.6" cy="268.1" r="5.9"/><circle cx="910.0" cy="318.0" r="5.9"/><circle cx="912.0" cy="417.9" r="5.9"/><circle cx="909.4" cy="517.7" r="5.9"/><circle cx="901.4" cy="617.5" r="5.9"/><circle cx="897.4" cy="717.3" r="5.9"/><circle cx="893.4" cy="817.2" r="5.9"/></g>
<polyline points="865.4,18.5 865.2,22.5 865.1,26.5 864.9,30.5 864.8,34.5 864.6,38.5 864.7,42.5 864.8,48.5 865.0,58.5 865.1,68.4 865.1,78.4 865.2,88.4 865.3,98.4 865.3,108.4 865.4,118.4 867.4,138.3 871.4,158.3 886.0,178.3 889.4,198.2 892.4,218.2 916.0,268.1 956.4,318.0 945.4,417.9 933.4,517.7 919.4,617.5 909.4,717.3 907.4,817.2" fill="none" stroke="#008000" stroke-width="2.5" stroke-linejoin="round"/><g fill="#008000"><circle cx="865.4" cy="18.5" r="6"/><circle cx="865.2" cy="22.5" r="6"/><circle cx="865.1" cy="26.5" r="6"/><circle cx="864.9" cy="30.5" r="6"/><circle cx="864.8" cy="34.5" r="6"/><circle cx="864.6" cy="38.5" r="6"/><circle cx="864.7" cy="42.5" r="6"/><circle cx="864.8" cy="48.5" r="6"/><circle cx="865.0" cy="58.5" r="6"/><circle cx="865.1" cy="68.4" r="6"/><circle cx="865.1" cy="78.4" r="6"/><circle cx="865.2" cy="88.4" r="6"/><circle cx="865.3" cy="98.4" r="6"/><circle cx="865.3" cy="108.4" r="6"/><circle cx="865.4" cy="118.4" r="6"/><circle cx="867.4" cy="138.3" r="6"/><circle cx="871.4" cy="158.3" r="6"/><circle cx="886.0" cy="178.3" r="6"/><circle cx="889.4" cy="198.2" r="6"/><circle cx="892.4" cy="218.2" r="6"/><circle cx="916.0" cy="268.1" r="6"/><circle cx="956.4" cy="318.0" r="6"/><circle cx="945.4" cy="417.9" r="6"/><circle cx="933.4" cy="517.7" r="6"/><circle cx="919.4" cy="617.5" r="6"/><circle cx="909.4" cy="717.3" r="6"/><circle cx="907.4" cy="817.2" r="6"/></g>
<polyline points="697.4,19.5 697.4,21.6 697.4,23.8 697.4,26.2 697.4,28.7 697.4,31.4 697.4,34.4 697.4,37.6 697.4,41.3 697.4,45.4 697.4,50.1 697.4,55.5 697.4,61.7 697.4,68.8 697.4,77.2 697.4,87.2 698.0,99.0 712.4,113.2 771.4,129.9 827.4,149.9 877.4,174.1 909.4,202.8 917.4,237.6 915.4,279.5 911.4,329.8 908.4,390.1 902.4,462.8 896.4,549.6 891.4,653.6 888.4,777.6" fill="none" stroke="#ff00ff" stroke-width="2.5" stroke-linejoin="round"/><g fill="#ff00ff"><circle cx="697.4" cy="19.5" r="6"/><circle cx="697.4" cy="21.6" r="6"/><circle cx="697.4" cy="23.8" r="6"/><circle cx="697.4" cy="26.2" r="6"/><circle cx="697.4" cy="28.7" r="6"/><circle cx="697.4" cy="31.4" r="6"/><circle cx="697.4" cy="34.4" r="6"/><circle cx="697.4" cy="37.6" r="6"/><circle cx="697.4" cy="41.3" r="6"/><circle cx="697.4" cy="45.4" r="6"/><circle cx="697.4" cy="50.1" r="6"/><circle cx="697.4" cy="55.5" r="6"/><circle cx="697.4" cy="61.7" r="6"/><circle cx="697.4" cy="68.8" r="6"/><circle cx="697.4" cy="77.2" r="6"/><circle cx="697.4" cy="87.2" r="6"/><circle cx="698.0" cy="99.0" r="6"/><circle cx="712.4" cy="113.2" r="6"/><circle cx="771.4" cy="129.9" r="6"/><circle cx="827.4" cy="149.9" r="6"/><circle cx="877.4" cy="174.1" r="6"/><circle cx="909.4" cy="202.8" r="6"/><circle cx="917.4" cy="237.6" r="6"/><circle cx="915.4" cy="279.5" r="6"/><circle cx="911.4" cy="329.8" r="6"/><circle cx="908.4" cy="390.1" r="6"/><circle cx="902.4" cy="462.8" r="6"/><circle cx="896.4" cy="549.6" r="6"/><circle cx="891.4" cy="653.6" r="6"/><circle cx="888.4" cy="777.6" r="6"/></g>
</g>
<rect x="580.5" y="19.5" width="402.0" height="795.0" fill="none" stroke="#000" stroke-width="1.35"/>
<path d="M678.5 814.5v6.2M781.5 814.5v6.2M883.5 814.5v6.2M580.5 19.5h-6.2M580.5 68.5h-6.2M580.5 118.5h-6.2M580.5 168.5h-6.2M580.5 218.5h-6.2M580.5 268.5h-6.2M580.5 318.5h-6.2M580.5 368.5h-6.2M580.5 418.5h-6.2M580.5 468.5h-6.2M580.5 518.5h-6.2M580.5 568.5h-6.2M580.5 618.5h-6.2M580.5 667.5h-6.2M580.5 717.5h-6.2M580.5 767.5h-6.2" stroke="#000" stroke-width="1.4" fill="none"/>
<text x="667.68" y="841.60" font-size="17.31" textLength="21.63" lengthAdjust="spacingAndGlyphs" fill="#000">33</text>
<text x="770.68" y="841.60" font-size="17.31" textLength="21.63" lengthAdjust="spacingAndGlyphs" fill="#000">34</text>
<text x="872.68" y="841.60" font-size="17.31" textLength="21.63" lengthAdjust="spacingAndGlyphs" fill="#000">35</text>
<clipPath id="cp3"><rect x="1072.5" y="19.2" width="402.0" height="795.3"/></clipPath>
<g clip-path="url(#cp3)">
<path d="M1076.5 19.5V814.5M1157.5 19.5V814.5M1239.5 19.5V814.5M1320.5 19.5V814.5M1402.5 19.5V814.5M1072.5 68.5H1474.5M1072.5 118.5H1474.5M1072.5 168.5H1474.5M1072.5 218.5H1474.5M1072.5 268.5H1474.5M1072.5 318.5H1474.5M1072.5 368.5H1474.5M1072.5 418.5H1474.5M1072.5 468.5H1474.5M1072.5 518.5H1474.5M1072.5 568.5H1474.5M1072.5 618.5H1474.5M1072.5 667.5H1474.5M1072.5 717.5H1474.5M1072.5 767.5H1474.5" stroke="#b0b0b0" stroke-width="0.9" stroke-dasharray="3.2 1.35" fill="none"/>
<g fill="#00ffff"><circle cx="1113.4" cy="26.0" r="3.4"/><circle cx="1125.4" cy="24.4" r="3.4"/><circle cx="1114.4" cy="34.4" r="3.4"/><circle cx="1127.4" cy="36.0" r="3.4"/><circle cx="1116.4" cy="43.0" r="3.4"/><circle cx="1128.4" cy="43.0" r="3.4"/><circle cx="1118.4" cy="52.0" r="3.4"/><circle cx="1130.4" cy="51.6" r="3.4"/><circle cx="1120.4" cy="60.0" r="3.4"/><circle cx="1132.4" cy="60.0" r="3.4"/><circle cx="1122.4" cy="70.0" r="3.4"/><circle cx="1138.4" cy="76.0" r="3.4"/><circle cx="1128.4" cy="77.6" r="3.4"/><circle cx="1134.4" cy="85.6" r="3.4"/><circle cx="1140.4" cy="97.4" r="3.4"/><circle cx="1147.4" cy="106.4" r="3.4"/><circle cx="1163.4" cy="98.4" r="3.4"/><circle cx="1172.4" cy="106.4" r="3.4"/><circle cx="1182.4" cy="114.4" r="3.4"/><circle cx="1166.4" cy="121.4" r="3.4"/><circle cx="1192.4" cy="124.4" r="3.4"/><circle cx="1172.4" cy="129.4" r="3.4"/><circle cx="1197.4" cy="133.4" r="3.4"/><circle cx="1181.4" cy="138.0" r="3.4"/><circle cx="1207.4" cy="142.0" r="3.4"/><circle cx="1186.4" cy="148.0" r="3.4"/><circle cx="1216.4" cy="150.4" r="3.4"/><circle cx="1194.4" cy="156.4" r="3.4"/><circle cx="1197.4" cy="163.4" r="3.4"/><circle cx="1227.4" cy="167.4" r="3.4"/><circle cx="1203.4" cy="170.4" r="3.4"/><circle cx="1232.4" cy="176.0" r="3.4"/><circle cx="1210.4" cy="177.4" r="3.4"/><circle cx="1237.4" cy="185.4" r="3.4"/><circle cx="1216.4" cy="185.4" r="3.4"/><circle cx="1243.4" cy="193.0" r="3.4"/><circle cx="1221.4" cy="192.4" r="3.4"/><circle cx="1215.4" cy="185.4" r="3.4"/><circle cx="1237.4" cy="185.4" r="3.4"/><circle cx="1221.4" cy="194.4" r="3.4"/><circle cx="1243.4" cy="194.4" r="3.4"/><circle cx="1227.4" cy="200.0" r="3.4"/><circle cx="1250.4" cy="210.4" r="3.4"/><circle cx="1231.4" cy="209.4" r="3.4"/><circle cx="1255.4" cy="217.4" r="3.4"/><circle cx="1245.4" cy="220.4" r="3.4"/><circle cx="1261.4" cy="224.4" r="3.4"/><circle cx="1266.4" cy="233.4" r="3.4"/><circle cx="1251.4" cy="232.4" r="3.4"/><circle cx="1271.4" cy="241.4" r="3.4"/><circle cx="1256.4" cy="238.0" r="3.4"/><circle cx="1274.4" cy="249.4" r="3.4"/><circle cx="1261.4" cy="249.4" r="3.4"/><circle cx="1278.4" cy="258.0" r="3.4"/><circle cx="1267.4" cy="259.0" r="3.4"/><circle cx="1270.4" cy="267.4" r="3.4"/><circle cx="1285.4" cy="275.4" r="3.4"/><circle cx="1293.4" cy="292.4" r="3.4"/><circle cx="1295.4" cy="300.0" r="3.4"/><circle cx="1282.3" cy="278.1" r="3.4"/><circle cx="1285.7" cy="286.7" r="3.4"/><circle cx="1289.5" cy="295.3" r="3.4"/><circle cx="1292.0" cy="303.8" r="3.4"/><circle cx="1295.9" cy="312.4" r="3.4"/><circle cx="1297.9" cy="321.0" r="3.4"/><circle cx="1302.1" cy="329.6" r="3.4"/><circle cx="1303.8" cy="338.2" r="3.4"/><circle cx="1308.2" cy="346.8" r="3.4"/><circle cx="1309.6" cy="355.4" r="3.4"/><circle cx="1314.0" cy="363.9" r="3.4"/><circle cx="1315.3" cy="372.5" r="3.4"/><circle cx="1319.9" cy="381.1" r="3.4"/><circle cx="1321.3" cy="389.7" r="3.4"/><circle cx="1325.6" cy="398.3" r="3.4"/><circle cx="1326.9" cy="406.9" r="3.4"/><circle cx="1330.8" cy="415.5" r="3.4"/><circle cx="1332.2" cy="424.0" r="3.4"/><circle cx="1335.6" cy="432.6" r="3.4"/><circle cx="1336.8" cy="441.2" r="3.4"/><circle cx="1339.7" cy="449.8" r="3.4"/><circle cx="1341.3" cy="458.4" r="3.4"/><circle cx="1343.8" cy="467.0" r="3.4"/><circle cx="1346.2" cy="475.6" r="3.4"/><circle cx="1348.7" cy="484.1" r="3.4"/><circle cx="1351.6" cy="492.7" r="3.4"/><circle cx="1353.7" cy="501.3" r="3.4"/><circle cx="1356.8" cy="509.9" r="3.4"/><circle cx="1358.1" cy="518.5" r="3.4"/><circle cx="1361.3" cy="527.1" r="3.4"/><circle cx="1362.3" cy="535.6" r="3.4"/><circle cx="1365.7" cy="544.2" r="3.4"/><circle cx="1366.7" cy="552.8" r="3.4"/><circle cx="1370.8" cy="561.4" r="3.4"/><circle cx="1371.7" cy="570.0" r="3.4"/><circle cx="1375.4" cy="578.6" r="3.4"/><circle cx="1376.0" cy="587.2" r="3.4"/><circle cx="1379.7" cy="595.7" r="3.4"/><circle cx="1380.4" cy="604.3" r="3.4"/><circle cx="1384.2" cy="612.9" r="3.4"/><circle cx="1385.5" cy="621.5" r="3.4"/><circle cx="1389.1" cy="630.1" r="3.4"/><circle cx="1390.2" cy="638.7" r="3.4"/><circle cx="1393.2" cy="647.3" r="3.4"/><circle cx="1394.7" cy="655.8" r="3.4"/><circle cx="1397.4" cy="664.4" r="3.4"/><circle cx="1399.2" cy="673.0" r="3.4"/><circle cx="1401.4" cy="681.6" r="3.4"/><circle cx="1403.7" cy="690.2" r="3.4"/><circle cx="1405.5" cy="698.8" r="3.4"/><circle cx="1408.2" cy="707.4" r="3.4"/><circle cx="1409.2" cy="715.9" r="3.4"/><circle cx="1411.8" cy="724.5" r="3.4"/><circle cx="1413.0" cy="733.1" r="3.4"/><circle cx="1416.6" cy="741.7" r="3.4"/><circle cx="1417.6" cy="750.3" r="3.4"/><circle cx="1421.4" cy="758.9" r="3.4"/><circle cx="1422.2" cy="767.5" r="3.4"/><circle cx="1425.5" cy="776.0" r="3.4"/><circle cx="1425.6" cy="784.6" r="3.4"/><circle cx="1429.1" cy="793.2" r="3.4"/><circle cx="1429.5" cy="801.8" r="3.4"/><circle cx="1432.2" cy="810.4" r="3.4"/><circle cx="1285.6" cy="280.9" r="3.4"/><circle cx="1290.8" cy="289.5" r="3.4"/><circle cx="1292.4" cy="298.1" r="3.4"/><circle cx="1297.2" cy="306.6" r="3.4"/><circle cx="1298.6" cy="315.2" r="3.4"/><circle cx="1303.2" cy="323.8" r="3.4"/><circle cx="1304.7" cy="332.4" r="3.4"/><circle cx="1309.1" cy="341.0" r="3.4"/><circle cx="1310.8" cy="349.6" r="3.4"/><circle cx="1314.8" cy="358.2" r="3.4"/><circle cx="1316.7" cy="366.7" r="3.4"/><circle cx="1320.4" cy="375.3" r="3.4"/><circle cx="1322.9" cy="383.9" r="3.4"/><circle cx="1326.1" cy="392.5" r="3.4"/><circle cx="1328.7" cy="401.1" r="3.4"/><circle cx="1331.4" cy="409.7" r="3.4"/><circle cx="1334.2" cy="418.2" r="3.4"/><circle cx="1336.3" cy="426.8" r="3.4"/><circle cx="1339.2" cy="435.4" r="3.4"/><circle cx="1340.5" cy="444.0" r="3.4"/><circle cx="1343.6" cy="452.6" r="3.4"/><circle cx="1344.6" cy="461.2" r="3.4"/><circle cx="1348.2" cy="469.8" r="3.4"/><circle cx="1349.3" cy="478.3" r="3.4"/><circle cx="1353.4" cy="486.9" r="3.4"/><circle cx="1354.4" cy="495.5" r="3.4"/><circle cx="1358.6" cy="504.1" r="3.4"/><circle cx="1359.4" cy="512.7" r="3.4"/><circle cx="1363.1" cy="521.3" r="3.4"/><circle cx="1363.7" cy="529.9" r="3.4"/><circle cx="1367.3" cy="538.4" r="3.4"/><circle cx="1368.1" cy="547.0" r="3.4"/><circle cx="1371.9" cy="555.6" r="3.4"/><circle cx="1373.4" cy="564.2" r="3.4"/><circle cx="1376.6" cy="572.8" r="3.4"/><circle cx="1378.0" cy="581.4" r="3.4"/><circle cx="1380.7" cy="590.0" r="3.4"/><circle cx="1382.5" cy="598.5" r="3.4"/><circle cx="1384.8" cy="607.1" r="3.4"/><circle cx="1387.5" cy="615.7" r="3.4"/><circle cx="1389.7" cy="624.3" r="3.4"/><circle cx="1392.5" cy="632.9" r="3.4"/><circle cx="1394.0" cy="641.5" r="3.4"/><circle cx="1397.0" cy="650.1" r="3.4"/><circle cx="1398.1" cy="658.6" r="3.4"/><circle cx="1401.5" cy="667.2" r="3.4"/><circle cx="1402.3" cy="675.8" r="3.4"/><circle cx="1405.9" cy="684.4" r="3.4"/><circle cx="1406.5" cy="693.0" r="3.4"/><circle cx="1410.2" cy="701.6" r="3.4"/><circle cx="1410.7" cy="710.2" r="3.4"/><circle cx="1414.0" cy="718.7" r="3.4"/><circle cx="1414.1" cy="727.3" r="3.4"/><circle cx="1418.0" cy="735.9" r="3.4"/><circle cx="1419.0" cy="744.5" r="3.4"/><circle cx="1422.7" cy="753.1" r="3.4"/><circle cx="1423.8" cy="761.7" r="3.4"/><circle cx="1427.0" cy="770.2" r="3.4"/><circle cx="1427.8" cy="778.8" r="3.4"/><circle cx="1430.3" cy="787.4" r="3.4"/><circle cx="1431.7" cy="796.0" r="3.4"/><circle cx="1434.0" cy="804.6" r="3.4"/><circle cx="1290.2" cy="283.7" r="3.4"/><circle cx="1292.7" cy="292.3" r="3.4"/><circle cx="1296.7" cy="300.8" r="3.4"/><circle cx="1299.2" cy="309.4" r="3.4"/><circle cx="1302.6" cy="318.0" r="3.4"/><circle cx="1305.5" cy="326.6" r="3.4"/><circle cx="1308.5" cy="335.2" r="3.4"/><circle cx="1311.7" cy="343.8" r="3.4"/><circle cx="1314.2" cy="352.4" r="3.4"/><circle cx="1317.7" cy="360.9" r="3.4"/><circle cx="1319.7" cy="369.5" r="3.4"/><circle cx="1323.7" cy="378.1" r="3.4"/><circle cx="1325.6" cy="386.7" r="3.4"/><circle cx="1329.6" cy="395.3" r="3.4"/><circle cx="1331.0" cy="403.9" r="3.4"/><circle cx="1335.1" cy="412.5" r="3.4"/><circle cx="1336.2" cy="421.0" r="3.4"/><circle cx="1340.2" cy="429.6" r="3.4"/><circle cx="1340.8" cy="438.2" r="3.4"/><circle cx="1344.5" cy="446.8" r="3.4"/><circle cx="1345.1" cy="455.4" r="3.4"/><circle cx="1348.8" cy="464.0" r="3.4"/><circle cx="1349.8" cy="472.6" r="3.4"/><circle cx="1353.6" cy="481.1" r="3.4"/><circle cx="1355.1" cy="489.7" r="3.4"/><circle cx="1358.6" cy="498.3" r="3.4"/><circle cx="1360.4" cy="506.9" r="3.4"/><circle cx="1363.2" cy="515.5" r="3.4"/><circle cx="1365.0" cy="524.1" r="3.4"/><circle cx="1367.3" cy="532.7" r="3.4"/><circle cx="1369.5" cy="541.2" r="3.4"/><circle cx="1371.5" cy="549.8" r="3.4"/><circle cx="1374.5" cy="558.4" r="3.4"/><circle cx="1376.4" cy="567.0" r="3.4"/><circle cx="1379.5" cy="575.6" r="3.4"/><circle cx="1380.6" cy="584.2" r="3.4"/><circle cx="1383.9" cy="592.8" r="3.4"/><circle cx="1384.8" cy="601.3" r="3.4"/><circle cx="1388.4" cy="609.9" r="3.4"/><circle cx="1389.5" cy="618.5" r="3.4"/><circle cx="1393.7" cy="627.1" r="3.4"/><circle cx="1394.3" cy="635.7" r="3.4"/><circle cx="1398.0" cy="644.3" r="3.4"/><circle cx="1398.6" cy="652.8" r="3.4"/><circle cx="1402.2" cy="661.4" r="3.4"/><circle cx="1402.9" cy="670.0" r="3.4"/><circle cx="1406.4" cy="678.6" r="3.4"/><circle cx="1407.4" cy="687.2" r="3.4"/><circle cx="1410.6" cy="695.8" r="3.4"/><circle cx="1411.8" cy="704.4" r="3.4"/><circle cx="1414.4" cy="712.9" r="3.4"/><circle cx="1415.6" cy="721.5" r="3.4"/><circle cx="1417.9" cy="730.1" r="3.4"/><circle cx="1420.2" cy="738.7" r="3.4"/><circle cx="1422.5" cy="747.3" r="3.4"/><circle cx="1425.1" cy="755.9" r="3.4"/><circle cx="1427.0" cy="764.5" r="3.4"/><circle cx="1429.5" cy="773.0" r="3.4"/><circle cx="1430.4" cy="781.6" r="3.4"/><circle cx="1433.2" cy="790.2" r="3.4"/><circle cx="1434.0" cy="798.8" r="3.4"/><circle cx="1437.3" cy="807.4" r="3.4"/></g>
<polyline points="1119.4,28.5 1123.4,48.5 1129.4,68.4 1141.4,88.4 1162.4,108.4 1181.4,128.3 1198.4,148.3 1212.4,168.3 1227.4,188.2 1240.4,208.2 1255.4,228.2 1268.4,248.1 1279.4,268.1 1288.0,288.1 1295.4,308.0 1302.4,328.0 1309.4,348.0 1316.0,367.9 1323.0,387.9 1329.4,407.9 1335.4,427.8 1340.4,447.8 1345.4,467.8 1351.4,487.7 1357.4,507.7 1362.4,527.7 1367.4,547.6 1373.4,567.6 1378.4,587.6 1383.4,607.5 1389.4,627.5 1394.4,647.5 1399.4,667.4 1404.4,687.4 1409.4,707.4 1413.4,727.3 1419.0,747.3 1424.4,767.3 1428.4,787.2 1433.0,807.2" fill="none" stroke="#0000ff" stroke-width="2.5" stroke-linejoin="round"/><g fill="#0000ff"><circle cx="1119.4" cy="28.5" r="6"/><circle cx="1123.4" cy="48.5" r="6"/><circle cx="1129.4" cy="68.4" r="6"/><circle cx="1141.4" cy="88.4" r="6"/><circle cx="1162.4" cy="108.4" r="6"/><circle cx="1181.4" cy="128.3" r="6"/><circle cx="1198.4" cy="148.3" r="6"/><circle cx="1212.4" cy="168.3" r="6"/><circle cx="1227.4" cy="188.2" r="6"/><circle cx="1240.4" cy="208.2" r="6"/><circle cx="1255.4" cy="228.2" r="6"/><circle cx="1268.4" cy="248.1" r="6"/><circle cx="1279.4" cy="268.1" r="6"/><circle cx="1288.0" cy="288.1" r="6"/><circle cx="1295.4" cy="308.0" r="6"/><circle cx="1302.4" cy="328.0" r="6"/><circle cx="1309.4" cy="348.0" r="6"/><circle cx="1316.0" cy="367.9" r="6"/><circle cx="1323.0" cy="387.9" r="6"/><circle cx="1329.4" cy="407.9" r="6"/><circle cx="1335.4" cy="427.8" r="6"/><circle cx="1340.4" cy="447.8" r="6"/><circle cx="1345.4" cy="467.8" r="6"/><circle cx="1351.4" cy="487.7" r="6"/><circle cx="1357.4" cy="507.7" r="6"/><circle cx="1362.4" cy="527.7" r="6"/><circle cx="1367.4" cy="547.6" r="6"/><circle cx="1373.4" cy="567.6" r="6"/><circle cx="1378.4" cy="587.6" r="6"/><circle cx="1383.4" cy="607.5" r="6"/><circle cx="1389.4" cy="627.5" r="6"/><circle cx="1394.4" cy="647.5" r="6"/><circle cx="1399.4" cy="667.4" r="6"/><circle cx="1404.4" cy="687.4" r="6"/><circle cx="1409.4" cy="707.4" r="6"/><circle cx="1413.4" cy="727.3" r="6"/><circle cx="1419.0" cy="747.3" r="6"/><circle cx="1424.4" cy="767.3" r="6"/><circle cx="1428.4" cy="787.2" r="6"/><circle cx="1433.0" cy="807.2" r="6"/></g>
<polyline points="1237.4,18.5 1238.2,22.5 1239.1,26.5 1239.9,30.5 1240.8,34.5 1241.6,38.5 1242.4,42.5 1243.6,48.5 1245.6,58.5 1248.0,68.4 1250.0,78.4 1252.0,88.4 1254.0,98.4 1256.0,108.4 1258.0,118.4 1262.0,138.3 1266.4,158.3 1270.0,178.3 1277.0,198.2 1282.0,218.2 1294.4,268.1 1311.4,318.0 1333.0,417.9 1351.0,517.7 1373.0,617.5 1397.0,717.3 1422.0,817.2" fill="none" stroke="#ff0000" stroke-width="10" stroke-linejoin="round"/><g fill="#ff0000"><circle cx="1237.4" cy="18.5" r="6"/><circle cx="1238.2" cy="22.5" r="6"/><circle cx="1239.1" cy="26.5" r="6"/><circle cx="1239.9" cy="30.5" r="6"/><circle cx="1240.8" cy="34.5" r="6"/><circle cx="1241.6" cy="38.5" r="6"/><circle cx="1242.4" cy="42.5" r="6"/><circle cx="1243.6" cy="48.5" r="6"/><circle cx="1245.6" cy="58.5" r="6"/><circle cx="1248.0" cy="68.4" r="6"/><circle cx="1250.0" cy="78.4" r="6"/><circle cx="1252.0" cy="88.4" r="6"/><circle cx="1254.0" cy="98.4" r="6"/><circle cx="1256.0" cy="108.4" r="6"/><circle cx="1258.0" cy="118.4" r="6"/><circle cx="1262.0" cy="138.3" r="6"/><circle cx="1266.4" cy="158.3" r="6"/><circle cx="1270.0" cy="178.3" r="6"/><circle cx="1277.0" cy="198.2" r="6"/><circle cx="1282.0" cy="218.2" r="6"/><circle cx="1294.4" cy="268.1" r="6"/><circle cx="1311.4" cy="318.0" r="6"/><circle cx="1333.0" cy="417.9" r="6"/><circle cx="1351.0" cy="517.7" r="6"/><circle cx="1373.0" cy="617.5" r="6"/><circle cx="1397.0" cy="717.3" r="6"/><circle cx="1422.0" cy="817.2" r="6"/></g>
<polyline points="1224.4,18.5 1225.1,22.5 1225.8,26.5 1226.6,30.5 1227.3,34.5 1228.0,38.5 1228.5,42.5 1229.2,48.5 1230.4,58.5 1232.4,68.4 1234.4,78.4 1236.4,88.4 1238.4,98.4 1240.4,108.4 1242.4,118.4 1246.4,138.3 1252.4,158.3 1257.4,178.3 1262.4,198.2 1272.4,218.2 1292.4,268.1 1305.4,318.0 1327.4,417.9 1352.0,517.7 1375.4,617.5 1400.4,717.3 1428.0,817.2" fill="none" stroke="#c27c00" stroke-width="3.4" stroke-linejoin="round"/><polyline points="1224.4,18.5 1225.1,22.5 1225.8,26.5 1226.6,30.5 1227.3,34.5 1228.0,38.5 1228.5,42.5 1229.2,48.5 1230.4,58.5 1232.4,68.4 1234.4,78.4 1236.4,88.4 1238.4,98.4 1240.4,108.4 1242.4,118.4 1246.4,138.3 1252.4,158.3 1257.4,178.3 1262.4,198.2 1272.4,218.2 1292.4,268.1 1305.4,318.0 1327.4,417.9 1352.0,517.7 1375.4,617.5 1400.4,717.3 1428.0,817.2" fill="none" stroke="#ffa500" stroke-width="2.2" stroke-linejoin="round"/><g fill="#ffa500" stroke="#cf8600" stroke-width="0.4"><circle cx="1224.4" cy="18.5" r="5.9"/><circle cx="1225.1" cy="22.5" r="5.9"/><circle cx="1225.8" cy="26.5" r="5.9"/><circle cx="1226.6" cy="30.5" r="5.9"/><circle cx="1227.3" cy="34.5" r="5.9"/><circle cx="1228.0" cy="38.5" r="5.9"/><circle cx="1228.5" cy="42.5" r="5.9"/><circle cx="1229.2" cy="48.5" r="5.9"/><circle cx="1230.4" cy="58.5" r="5.9"/><circle cx="1232.4" cy="68.4" r="5.9"/><circle cx="1234.4" cy="78.4" r="5.9"/><circle cx="1236.4" cy="88.4" r="5.9"/><circle cx="1238.4" cy="98.4" r="5.9"/><circle cx="1240.4" cy="108.4" r="5.9"/><circle cx="1242.4" cy="118.4" r="5.9"/><circle cx="1246.4" cy="138.3" r="5.9"/><circle cx="1252.4" cy="158.3" r="5.9"/><circle cx="1257.4" cy="178.3" r="5.9"/><circle cx="1262.4" cy="198.2" r="5.9"/><circle cx="1272.4" cy="218.2" r="5.9"/><circle cx="1292.4" cy="268.1" r="5.9"/><circle cx="1305.4" cy="318.0" r="5.9"/><circle cx="1327.4" cy="417.9" r="5.9"/><circle cx="1352.0" cy="517.7" r="5.9"/><circle cx="1375.4" cy="617.5" r="5.9"/><circle cx="1400.4" cy="717.3" r="5.9"/><circle cx="1428.0" cy="817.2" r="5.9"/></g>
<polyline points="1190.0,18.5 1190.8,22.5 1191.6,26.5 1192.4,30.5 1193.2,34.5 1194.0,38.5 1194.7,42.5 1195.7,48.5 1197.4,58.5 1199.4,68.4 1201.4,78.4 1203.4,88.4 1205.4,98.4 1207.0,108.4 1208.4,118.4 1212.4,138.3 1217.4,158.3 1226.0,178.3 1231.4,198.2 1238.4,218.2 1254.4,268.1 1280.4,318.0 1317.4,417.9 1346.4,517.7 1373.4,617.5 1398.4,717.3 1425.0,817.2" fill="none" stroke="#008000" stroke-width="2.5" stroke-linejoin="round"/><g fill="#008000"><circle cx="1190.0" cy="18.5" r="6"/><circle cx="1190.8" cy="22.5" r="6"/><circle cx="1191.6" cy="26.5" r="6"/><circle cx="1192.4" cy="30.5" r="6"/><circle cx="1193.2" cy="34.5" r="6"/><circle cx="1194.0" cy="38.5" r="6"/><circle cx="1194.7" cy="42.5" r="6"/><circle cx="1195.7" cy="48.5" r="6"/><circle cx="1197.4" cy="58.5" r="6"/><circle cx="1199.4" cy="68.4" r="6"/><circle cx="1201.4" cy="78.4" r="6"/><circle cx="1203.4" cy="88.4" r="6"/><circle cx="1205.4" cy="98.4" r="6"/><circle cx="1207.0" cy="108.4" r="6"/><circle cx="1208.4" cy="118.4" r="6"/><circle cx="1212.4" cy="138.3" r="6"/><circle cx="1217.4" cy="158.3" r="6"/><circle cx="1226.0" cy="178.3" r="6"/><circle cx="1231.4" cy="198.2" r="6"/><circle cx="1238.4" cy="218.2" r="6"/><circle cx="1254.4" cy="268.1" r="6"/><circle cx="1280.4" cy="318.0" r="6"/><circle cx="1317.4" cy="417.9" r="6"/><circle cx="1346.4" cy="517.7" r="6"/><circle cx="1373.4" cy="617.5" r="6"/><circle cx="1398.4" cy="717.3" r="6"/><circle cx="1425.0" cy="817.2" r="6"/></g>
<polyline points="1138.4,19.5 1138.8,21.6 1139.2,23.8 1139.6,26.2 1140.0,28.7 1140.5,31.4 1141.0,34.4 1141.6,37.6 1142.3,41.3 1143.0,45.4 1143.8,50.1 1144.8,55.5 1145.9,61.7 1147.1,68.8 1148.6,77.2 1150.4,87.2 1153.4,99.0 1160.4,113.2 1179.4,129.9 1196.4,149.9 1219.4,174.1 1243.4,202.8 1261.4,237.6 1277.4,279.5 1297.4,329.8 1318.4,390.1 1341.4,462.8 1364.4,549.6 1391.4,653.6 1423.4,777.6" fill="none" stroke="#ff00ff" stroke-width="2.5" stroke-linejoin="round"/><g fill="#ff00ff"><circle cx="1138.4" cy="19.5" r="6"/><circle cx="1138.8" cy="21.6" r="6"/><circle cx="1139.2" cy="23.8" r="6"/><circle cx="1139.6" cy="26.2" r="6"/><circle cx="1140.0" cy="28.7" r="6"/><circle cx="1140.5" cy="31.4" r="6"/><circle cx="1141.0" cy="34.4" r="6"/><circle cx="1141.6" cy="37.6" r="6"/><circle cx="1142.3" cy="41.3" r="6"/><circle cx="1143.0" cy="45.4" r="6"/><circle cx="1143.8" cy="50.1" r="6"/><circle cx="1144.8" cy="55.5" r="6"/><circle cx="1145.9" cy="61.7" r="6"/><circle cx="1147.1" cy="68.8" r="6"/><circle cx="1148.6" cy="77.2" r="6"/><circle cx="1150.4" cy="87.2" r="6"/><circle cx="1153.4" cy="99.0" r="6"/><circle cx="1160.4" cy="113.2" r="6"/><circle cx="1179.4" cy="129.9" r="6"/><circle cx="1196.4" cy="149.9" r="6"/><circle cx="1219.4" cy="174.1" r="6"/><circle cx="1243.4" cy="202.8" r="6"/><circle cx="1261.4" cy="237.6" r="6"/><circle cx="1277.4" cy="279.5" r="6"/><circle cx="1297.4" cy="329.8" r="6"/><circle cx="1318.4" cy="390.1" r="6"/><circle cx="1341.4" cy="462.8" r="6"/><circle cx="1364.4" cy="549.6" r="6"/><circle cx="1391.4" cy="653.6" r="6"/><circle cx="1423.4" cy="777.6" r="6"/></g>
</g>
<rect x="1072.5" y="19.5" width="402.0" height="795.0" fill="none" stroke="#000" stroke-width="1.35"/>
<path d="M1076.5 814.5v6.2M1157.5 814.5v6.2M1239.5 814.5v6.2M1320.5 814.5v6.2M1402.5 814.5v6.2M1072.5 19.5h-6.2M1072.5 68.5h-6.2M1072.5 118.5h-6.2M1072.5 168.5h-6.2M1072.5 218.5h-6.2M1072.5 268.5h-6.2M1072.5 318.5h-6.2M1072.5 368.5h-6.2M1072.5 418.5h-6.2M1072.5 468.5h-6.2M1072.5 518.5h-6.2M1072.5 568.5h-6.2M1072.5 618.5h-6.2M1072.5 667.5h-6.2M1072.5 717.5h-6.2M1072.5 767.5h-6.2" stroke="#000" stroke-width="1.4" fill="none"/>
<g transform="rotate(-45 1075.3 850.3)">
<text x="1053.67" y="856.40" font-size="17.31" textLength="43.27" lengthAdjust="spacingAndGlyphs" fill="#000">1025</text>
</g>
<g transform="rotate(-45 1156.3 850.3)">
<text x="1134.67" y="856.40" font-size="17.31" textLength="43.27" lengthAdjust="spacingAndGlyphs" fill="#000">1026</text>
</g>
<g transform="rotate(-45 1238.3 850.3)">
<text x="1216.67" y="856.40" font-size="17.31" textLength="43.27" lengthAdjust="spacingAndGlyphs" fill="#000">1027</text>
</g>
<g transform="rotate(-45 1319.3 850.3)">
<text x="1297.67" y="856.40" font-size="17.31" textLength="43.27" lengthAdjust="spacingAndGlyphs" fill="#000">1028</text>
</g>
<g transform="rotate(-45 1401.3 850.3)">
<text x="1379.67" y="856.40" font-size="17.31" textLength="43.27" lengthAdjust="spacingAndGlyphs" fill="#000">1029</text>
</g>
<g transform="rotate(-90 30 418.3)">
<text y="418.30" font-size="23.11" font-weight="bold" fill="#000"><tspan x="-34.90" textLength="77.50" lengthAdjust="spacingAndGlyphs">Depth</tspan> <tspan x="50.50" textLength="44.40" lengthAdjust="spacingAndGlyphs">(m)</tspan></text>
</g>
<text x="732.19" y="870.50" font-size="23.11" font-weight="bold" textLength="96.82" lengthAdjust="spacingAndGlyphs" fill="#000">Salinity</text>
<text y="895.80" font-size="23.11" font-weight="bold" fill="#000"><tspan x="1165.54" textLength="97.34" lengthAdjust="spacingAndGlyphs">Density</tspan> <tspan x="1270.79" textLength="41.72" lengthAdjust="spacingAndGlyphs">(kg</tspan> <tspan x="1320.41" textLength="59.25" lengthAdjust="spacingAndGlyphs">m-3)</tspan></text>
<text y="872.60" font-size="23.11" font-weight="bold" fill="#000"><tspan x="179.00" textLength="163.28" lengthAdjust="spacingAndGlyphs">Temperature</tspan> <tspan x="350.18" textLength="10.37" lengthAdjust="spacingAndGlyphs">(</tspan></text>
<text x="362.40" y="863.60" font-size="16.59" font-style="italic" textLength="9.97" lengthAdjust="spacingAndGlyphs" fill="#000">o</text>
<text x="373.40" y="872.60" font-size="23.11" font-style="italic" textLength="15.85" lengthAdjust="spacingAndGlyphs" fill="#000">C</text>
<text x="389.60" y="872.60" font-size="23.11" font-weight="bold" textLength="10.37" lengthAdjust="spacingAndGlyphs" fill="#000">)</text>
<text y="917.60" font-size="17.71" font-style="italic" fill="#000"><tspan x="323.60" textLength="55.66" lengthAdjust="spacingAndGlyphs">Ocean</tspan> <tspan x="384.79" textLength="41.27" lengthAdjust="spacingAndGlyphs">Heat</tspan> <tspan x="431.60" textLength="69.20" lengthAdjust="spacingAndGlyphs">Content</tspan> <tspan x="506.33" textLength="86.82" lengthAdjust="spacingAndGlyphs">(kJ/cm^2)</tspan> <tspan x="598.68" textLength="6.28" lengthAdjust="spacingAndGlyphs">-</tspan> <tspan x="610.49" textLength="57.92" lengthAdjust="spacingAndGlyphs">Glider:</tspan> <tspan x="673.94" textLength="36.64" lengthAdjust="spacingAndGlyphs">N/A,</tspan> <tspan x="721.64" textLength="63.33" lengthAdjust="spacingAndGlyphs">RTOFS:</tspan> <tspan x="790.50" textLength="36.64" lengthAdjust="spacingAndGlyphs">N/A,</tspan> <tspan x="838.20" textLength="57.47" lengthAdjust="spacingAndGlyphs">RTOFS</tspan> <tspan x="901.20" textLength="83.62" lengthAdjust="spacingAndGlyphs">(Parallel):</tspan> <tspan x="990.35" textLength="36.64" lengthAdjust="spacingAndGlyphs">N/A,</tspan> <tspan x="1038.05" textLength="50.55" lengthAdjust="spacingAndGlyphs">ESPC:</tspan> <tspan x="1094.13" textLength="36.64" lengthAdjust="spacingAndGlyphs">N/A,</tspan> <tspan x="1141.83" textLength="70.08" lengthAdjust="spacingAndGlyphs">CMEMS:</tspan> <tspan x="1217.44" textLength="36.64" lengthAdjust="spacingAndGlyphs">N/A,</tspan></text>
<text y="36.60" font-size="23.11" font-weight="bold" fill="#000"><tspan x="1524.20" textLength="151.72" lengthAdjust="spacingAndGlyphs">Comparison</tspan> <tspan x="1683.83" textLength="69.49" lengthAdjust="spacingAndGlyphs">Date:</tspan> <tspan x="1761.22" textLength="145.20" lengthAdjust="spacingAndGlyphs">2025-01-30</tspan></text>
<text y="89.70" font-size="23.11" font-weight="bold" fill="#000"><tspan x="1524.20" textLength="86.11" lengthAdjust="spacingAndGlyphs">Glider:</tspan> <tspan x="1618.22" textLength="77.14" lengthAdjust="spacingAndGlyphs">sp066</tspan></text>
<text y="116.30" font-size="23.11" font-weight="bold" fill="#000"><tspan x="1524.20" textLength="106.02" lengthAdjust="spacingAndGlyphs">Profiles:</tspan> <tspan x="1638.12" textLength="15.79" lengthAdjust="spacingAndGlyphs">3</tspan></text>
<text y="142.90" font-size="23.11" font-weight="bold" fill="#000"><tspan x="1524.20" textLength="67.93" lengthAdjust="spacingAndGlyphs">First:</tspan> <tspan x="1600.03" textLength="145.20" lengthAdjust="spacingAndGlyphs">2025-01-30</tspan> <tspan x="1753.13" textLength="112.92" lengthAdjust="spacingAndGlyphs">04:04:00</tspan></text>
<text y="169.50" font-size="23.11" font-weight="bold" fill="#000"><tspan x="1524.20" textLength="63.22" lengthAdjust="spacingAndGlyphs">Last:</tspan> <tspan x="1595.33" textLength="145.20" lengthAdjust="spacingAndGlyphs">2025-01-30</tspan> <tspan x="1748.43" textLength="112.92" lengthAdjust="spacingAndGlyphs">16:11:45</tspan></text>
<text y="196.20" font-size="23.11" font-weight="bold" fill="#000"><tspan x="1524.20" textLength="105.92" lengthAdjust="spacingAndGlyphs">Method:</tspan> <tspan x="1638.02" textLength="227.72" lengthAdjust="spacingAndGlyphs">Nearest-Neighbor</tspan></text>
<clipPath id="cpm"><rect x="1563.8" y="248.9" width="402.7" height="335.2"/></clipPath>
<g clip-path="url(#cpm)">
<rect x="1563.8" y="248.9" width="402.7" height="335.2" fill="#97b6e1"/>
<path d="M1563.8 248.9L1791.3 249.0L1783.5 252.4L1774.1 256.0L1767.1 257.1L1761.8 257.4L1758.2 258.8L1757.1 262.4L1759.9 264.9L1755.7 266.6L1754.3 270.2L1752.6 273.8L1749.3 275.2L1748.0 278.5L1747.4 282.4L1744.8 285.2L1743.2 288.5L1741.9 292.4L1742.7 291.5L1742.0 293.7L1740.9 298.2L1743.5 301.2L1747.2 300.1L1748.7 302.4L1746.5 304.6L1740.5 306.9L1738.2 310.2L1734.9 312.5L1735.2 315.9L1740.5 318.1L1743.9 319.2L1745.7 322.2L1748.0 325.2L1745.4 327.5L1748.7 329.7L1750.2 332.7L1751.7 335.7L1755.5 337.2L1760.0 336.9L1763.7 335.7L1766.0 334.8L1765.1 332.0L1763.7 329.0L1761.5 326.9L1759.2 326.1L1757.9 324.9L1760.0 323.6L1763.0 324.3L1765.6 327.5L1767.1 332.0L1767.8 336.5L1767.5 341.0L1766.0 344.0L1765.1 345.6L1764.6 341.7L1764.2 338.9L1760.0 339.6L1755.5 341.7L1751.7 344.0L1748.0 345.6L1745.0 347.7L1740.5 349.2L1737.3 350.1L1739.0 347.7L1742.7 345.5L1745.7 342.5L1746.6 338.0L1744.2 337.4L1740.5 341.0L1736.7 344.0L1733.0 346.4L1730.7 347.9L1729.4 342.5L1730.4 338.0L1727.9 335.7L1725.9 338.0L1725.5 344.0L1726.2 348.5L1724.0 350.0L1721.0 350.9L1713.5 352.4L1707.5 353.9L1700.0 355.4L1697.1 354.8L1690.6 355.4L1684.2 355.7L1681.0 353.8L1677.8 356.7L1673.3 358.6L1668.8 361.2L1665.0 363.4L1661.1 365.0L1657.9 367.0L1654.7 370.2L1650.8 373.4L1647.0 376.6L1644.4 379.8L1642.5 383.0L1641.7 385.0L1644.4 386.9L1647.6 386.2L1649.7 385.5L1650.6 388.8L1650.2 391.4L1650.2 395.9L1649.3 400.1L1647.4 404.6L1646.1 409.8L1644.8 413.6L1641.6 417.5L1639.0 420.7L1635.8 424.6L1632.6 427.8L1630.7 431.0L1628.1 434.8L1626.2 438.7L1624.3 442.7L1622.5 441.9L1623.6 439.0L1624.9 434.8L1623.6 432.9L1619.8 432.0L1617.2 432.9L1614.6 430.2L1611.4 427.6L1607.6 425.2L1609.2 429.7L1610.1 434.8L1611.4 439.3L1614.0 442.6L1617.2 446.4L1619.4 448.5L1620.1 451.6L1620.6 455.2L1620.7 457.5L1619.2 465.0L1616.2 471.0L1612.5 477.7L1608.0 484.5L1605.0 490.5L1602.0 498.0L1599.0 504.7L1596.0 509.2L1593.0 510.9L1594.1 515.3L1596.3 522.8L1598.8 537.8L1602.0 546.3L1605.7 554.9L1608.7 564.5L1607.8 575.9L1598.8 578.4L1588.1 583.4L1583.8 585.3L1563.8 584.1Z" fill="#d2b48c"/>
<path d="M1874.3 249.3L1875.1 257.2L1877.4 263.2L1879.3 259.8L1883.6 261.5L1886.4 268.2L1890.1 273.1L1896.3 269.4L1900.6 263.2L1907.6 258.6L1914.7 253.8L1918.7 249.3ZM1650.8 382.1L1652.1 378.5L1654.7 376.0L1658.5 373.4L1661.1 370.3L1665.0 368.4L1668.8 368.1L1672.7 369.7L1674.6 367.1L1681.0 366.5L1687.4 365.8L1691.3 364.5L1694.5 362.0L1698.4 359.4L1703.5 358.0L1705.4 357.7L1702.9 360.0L1700.3 362.6L1703.5 362.2L1705.4 363.9L1709.9 362.5L1712.5 362.8L1709.9 364.5L1703.5 367.1L1697.1 369.7L1690.6 372.2L1684.2 374.8L1677.8 377.4L1671.4 379.3L1665.0 380.8L1658.5 381.2L1653.4 381.9ZM1740.9 352.6L1745.0 350.0L1748.0 347.7L1752.5 350.0L1751.7 352.2L1746.5 352.6L1742.0 354.6ZM1755.5 352.6L1760.0 354.5L1763.7 353.7L1764.1 350.3L1766.3 354.5L1764.5 356.3L1760.0 356.0L1756.2 353.7Z" fill="#d2b48c"/>
<path d="M1563.6 248.9L1590.0 248.9L1586.6 253.9L1587.4 261.7L1585.8 266.5L1578.8 269.8L1572.7 273.2L1567.7 275.9L1563.6 277.6Z" fill="#b3b3b3"/>
<path d="M1578.3 250.6L1569.9 263.9L1563.6 263.9" stroke="#000" stroke-width="1.5" stroke-dasharray="4.8 2" fill="none"/>
<path d="M1590.5 278.8L1596.1 279.2L1600.5 280.3L1597.2 281.4L1591.6 280.1ZM1723.6 261.2L1726.9 260.6L1729.7 266.2L1728.0 267.3L1725.3 263.9ZM1747.5 252.2L1750.3 252.5L1750.9 256.7L1749.5 256.7Z" fill="#b3b3b3" opacity="0.8"/>
<path d="M1649.0 248.9L1645.1 254.5L1650.7 260.0L1655.1 267.8L1654.0 275.6L1656.2 279.0L1661.2 276.7L1662.3 283.4L1660.1 293.5L1657.9 302.4L1656.2 315.7L1652.9 324.6L1651.8 334.7L1651.2 344.0M1651.8 336.0L1650.7 342.7L1651.8 349.4L1651.2 353.8M1608.3 270.1L1610.6 274.5L1608.9 279.0L1613.9 283.4L1621.7 286.8L1627.3 286.8L1634.0 291.8L1642.9 290.1L1651.8 294.6L1658.4 296.8M1624.5 296.2L1622.8 306.8L1613.9 313.5L1606.1 318.0L1603.3 324.6L1603.9 329.1M1632.8 311.3L1625.0 315.7L1619.5 321.3L1610.6 325.2M1578.3 270.1L1582.7 277.9L1585.5 282.3L1573.8 285.7L1570.5 291.2L1565.5 294.6L1565.5 302.4L1567.1 311.3M1603.9 329.1L1599.4 328.0L1597.2 323.0L1585.0 323.5L1578.8 326.3L1578.3 332.4L1583.8 339.1L1592.7 344.0M1580.5 336.0L1591.6 341.6L1598.3 349.4L1597.2 354.9L1589.4 360.5L1587.2 362.7L1578.3 366.1L1570.5 369.4M1564.4 356.0L1569.9 357.2L1567.7 361.6L1569.4 368.3L1570.5 369.4L1567.7 378.3L1564.9 383.9L1565.5 389.5L1572.7 398.4L1579.4 405.0L1583.8 411.7L1588.3 417.3L1591.6 419.5M1694.1 299.0L1691.3 306.8L1690.2 318.0L1690.7 329.1L1689.1 336.9L1689.6 344.0M1689.1 336.0L1689.6 341.6L1694.1 347.1L1697.4 351.6M1717.3 249.0L1717.8 262.4L1715.9 265.7L1717.8 269.1L1718.9 273.5L1721.7 279.1L1723.7 284.1L1722.8 288.5L1723.4 296.0M1723.2 290.0L1722.5 293.7L1724.7 299.7L1728.5 302.0L1733.0 299.0L1737.5 296.0L1740.9 294.5M1564.4 552.3L1567.1 554.0L1569.4 552.3L1572.7 551.8" stroke="#97b6e1" stroke-width="1.5" fill="none" stroke-linejoin="round"/>
<path d="M1571.0 292.3L1572.7 300.1L1578.3 307.9M1577.2 292.3L1579.4 296.8M1581.1 291.2L1584.4 296.2" stroke="#b3b3b3" stroke-width="0.7" fill="none" opacity="0.7"/>
<path d="M1596.7 418.1L1592.4 422.1L1588.1 425.3L1583.4 429.6L1579.6 436.0L1577.6 443.5L1578.1 452.1L1580.4 459.6L1583.0 466.0L1584.7 472.4L1585.1 477.8L1583.8 486.4L1584.7 497.1L1585.6 505.6L1588.1 513.3L1593.7 516.3L1595.8 511.2L1593.7 505.6L1593.3 497.1L1592.4 486.4L1594.5 478.9L1593.7 472.4L1591.1 466.0L1589.0 459.6L1585.8 452.1L1584.1 443.5L1584.9 436.0L1587.7 430.7L1592.0 426.4L1596.3 422.1L1598.2 419.6Z" fill="#97b6e1" stroke="#000" stroke-width="1.5" stroke-linejoin="round"/>
<path d="M1598.0 418.7L1593.7 422.1L1596.3 424.9L1590.3 426.8L1593.3 430.7L1587.3 432.4L1590.7 436.0L1586.2 438.8L1590.0 442.5L1585.8 446.1L1590.5 448.9L1588.3 453.2L1594.3 452.1L1591.5 457.5L1596.0 458.5L1592.6 463.9L1598.6 462.8L1595.8 468.2L1600.3 467.5L1598.0 474.6L1601.6 472.4L1600.1 479.9L1598.8 484.6" stroke="#000" stroke-width="3.0" fill="none" stroke-linejoin="round" stroke-linecap="round"/>
<path d="M1595.8 417.8L1590.3 420.2L1586.0 424.3L1579.6 426.4L1576.1 429.8L1577.6 433.9L1574.8 438.2L1577.6 443.5L1575.5 448.9L1578.5 454.2L1577.2 459.6L1581.3 463.9L1579.8 468.2L1583.4 472.4" stroke="#000" stroke-width="2.4" fill="none" stroke-linejoin="round" stroke-linecap="round"/>
<path d="M1588.1 436.0L1590.3 441.4L1588.1 446.1L1591.5 451.0L1593.7 455.3L1595.8 461.7L1598.0 469.7M1593.7 424.3L1589.4 430.7L1588.1 436.0" stroke="#000" stroke-width="2.4" fill="none" stroke-linejoin="round" stroke-linecap="round"/>
<path d="M1581.3 428.5L1578.3 437.1L1576.8 445.7L1578.1 454.2L1580.0 461.7" stroke="#000" stroke-width="1.6" fill="none" stroke-linejoin="round"/>
<path d="M1608.7 477.4L1602.3 490.6L1597.1 503.5L1593.7 510.3L1592.4 503.9L1595.4 493.2L1598.8 484.2L1601.8 478.2Z" fill="#000" stroke="#000" stroke-width="2" stroke-linejoin="round"/>
<path d="M1605.7 480.8L1600.5 492.4L1596.7 501.3" stroke="#d2b48c" stroke-width="1.5" fill="none"/>
<path d="M1564.1 465.4L1571.0 467.5L1577.4 469.7L1583.0 473.9M1564.1 468.8L1571.0 471.4L1577.4 473.9L1582.6 475.2M1565.9 476.7L1572.1 481.0L1578.5 485.9L1584.3 488.9M1568.8 493.9L1575.3 498.1L1584.3 501.8M1564.6 503.5L1571.0 506.7L1577.4 511.0L1584.3 516.8L1591.5 515.5M1573.1 509.9L1578.5 516.3L1585.6 518.1M1568.8 485.3L1575.3 490.6L1581.7 492.8M1581.7 490.6L1584.9 497.1L1583.4 505.6L1586.0 512.1" stroke="#000" stroke-width="3.1" fill="none" stroke-linejoin="round" stroke-linecap="round"/>
<path d="M1564.6 467.1L1571.0 469.4L1577.4 471.8L1583.4 474.6" stroke="#97b6e1" stroke-width="1.2" fill="none"/>
<path d="M1568.8 505.2L1577.4 510.3L1584.3 515.9" stroke="#97b6e1" stroke-width="0.9" fill="none"/>
<path d="M1598.0 537.8L1601.4 547.4L1605.7 555.3L1608.5 564.5L1607.6 575.4L1598.8 578.2L1588.1 583.1L1584.9 584.0L1579.1 579.3L1588.1 572.4L1595.6 568.2L1599.9 561.3L1601.2 555.3L1599.5 551.0L1590.3 549.7L1581.7 550.4L1575.3 551.2L1571.8 550.4L1571.8 547.6L1577.4 546.1L1586.0 544.8L1593.7 545.5L1598.4 548.0Z" fill="#97b6e1" stroke="#000" stroke-width="1.5" stroke-linejoin="round"/>
<path d="M1571.8 545.0L1575.3 542.5L1577.4 544.8L1580.0 541.0L1582.8 543.3L1585.6 539.5L1588.1 542.2L1590.7 537.8L1592.8 540.1L1595.8 537.8M1564.1 565.6L1573.1 567.7L1579.6 569.0L1576.3 572.4M1564.6 578.4L1571.0 581.0L1577.4 582.7M1590.7 552.7L1591.5 560.4M1568.8 569.9L1577.4 574.6L1575.3 578.4" stroke="#000" stroke-width="2.3" fill="none" stroke-linejoin="round" stroke-linecap="round"/>
<path d="M1666.8 248.9L1667.9 255.6L1667.4 265.1L1669.6 265.1L1671.8 267.8L1671.8 284.5L1671.3 297.9M1671.3 297.9L1694.1 298.8L1727.5 300.1L1734.2 295.7L1740.9 293.5M1705.2 248.9L1699.7 260.0L1696.5 267.8L1695.2 276.7L1693.5 286.8L1692.1 293.5L1694.1 298.8M1736.2 249.0L1737.0 260.7L1737.4 271.8L1739.0 276.3L1741.2 279.6L1742.3 283.0L1744.0 285.2M1671.3 297.9L1668.5 311.3L1664.6 324.6L1664.0 344.0M1664.6 325.2L1685.2 326.3L1714.1 326.6L1725.8 326.9L1726.9 332.4L1729.7 336.9M1713.9 326.9L1713.9 344.0M1713.9 336.0L1713.6 351.6M1563.6 328.0L1611.1 328.0L1616.1 332.4L1619.5 336.9L1620.6 344.0M1664.0 336.0L1663.5 357.2L1658.4 361.6L1659.0 364.1M1629.5 352.1L1652.9 365.8M1619.5 336.0L1620.6 342.7L1625.0 347.7L1629.5 350.5L1629.5 352.1L1623.9 358.3L1618.4 365.0L1619.5 370.5L1615.6 377.2L1618.4 382.8L1623.9 389.5L1629.5 397.2L1620.0 403.4M1563.6 413.1L1598.9 413.1L1600.0 440.0M1600.5 432.0L1601.7 459.3L1617.8 459.6M1599.5 413.3L1600.5 410.4L1603.7 408.8L1607.6 408.8L1610.4 410.4L1607.6 413.0L1605.0 416.2L1603.8 418.1L1604.7 422.0L1607.6 425.2M1600.5 477.1L1609.5 476.5M1563.6 528.9L1591.6 528.9M1564.2 441.3L1566.4 444.5L1564.2 447.1" stroke="#000" stroke-width="1.3" fill="none" stroke-linejoin="round"/>
<path d="M1791.3 249.0L1783.5 252.4L1774.1 256.0L1767.1 257.1L1761.8 257.4L1758.2 258.8L1757.1 262.4L1759.9 264.9L1755.7 266.6L1754.3 270.2L1752.6 273.8L1749.3 275.2L1748.0 278.5L1747.4 282.4L1744.8 285.2L1743.2 288.5L1741.9 292.4L1742.7 291.5L1742.0 293.7L1740.9 298.2L1743.5 301.2L1747.2 300.1L1748.7 302.4L1746.5 304.6L1740.5 306.9L1738.2 310.2L1734.9 312.5L1735.2 315.9L1740.5 318.1L1743.9 319.2L1745.7 322.2L1748.0 325.2L1745.4 327.5L1748.7 329.7L1750.2 332.7L1751.7 335.7L1755.5 337.2L1760.0 336.9L1763.7 335.7L1766.0 334.8L1765.1 332.0L1763.7 329.0L1761.5 326.9L1759.2 326.1L1757.9 324.9L1760.0 323.6L1763.0 324.3L1765.6 327.5L1767.1 332.0L1767.8 336.5L1767.5 341.0L1766.0 344.0L1765.1 345.6L1764.6 341.7L1764.2 338.9L1760.0 339.6L1755.5 341.7L1751.7 344.0L1748.0 345.6L1745.0 347.7L1740.5 349.2L1737.3 350.1L1739.0 347.7L1742.7 345.5L1745.7 342.5L1746.6 338.0L1744.2 337.4L1740.5 341.0L1736.7 344.0L1733.0 346.4L1730.7 347.9L1729.4 342.5L1730.4 338.0L1727.9 335.7L1725.9 338.0L1725.5 344.0L1726.2 348.5L1724.0 350.0L1721.0 350.9L1713.5 352.4L1707.5 353.9L1700.0 355.4L1697.1 354.8L1690.6 355.4L1684.2 355.7L1681.0 353.8L1677.8 356.7L1673.3 358.6L1668.8 361.2L1665.0 363.4L1661.1 365.0L1657.9 367.0L1654.7 370.2L1650.8 373.4L1647.0 376.6L1644.4 379.8L1642.5 383.0L1641.7 385.0L1644.4 386.9L1647.6 386.2L1649.7 385.5L1650.6 388.8L1650.2 391.4L1650.2 395.9L1649.3 400.1L1647.4 404.6L1646.1 409.8L1644.8 413.6L1641.6 417.5L1639.0 420.7L1635.8 424.6L1632.6 427.8L1630.7 431.0L1628.1 434.8L1626.2 438.7L1624.3 442.7L1622.5 441.9L1623.6 439.0L1624.9 434.8L1623.6 432.9L1619.8 432.0L1617.2 432.9L1614.6 430.2L1611.4 427.6L1607.6 425.2L1609.2 429.7L1610.1 434.8L1611.4 439.3L1614.0 442.6L1617.2 446.4L1619.4 448.5L1620.1 451.6L1620.6 455.2L1620.7 457.5L1619.2 465.0L1616.2 471.0L1612.5 477.7L1608.0 484.5L1605.0 490.5L1602.0 498.0L1599.0 504.7L1596.0 509.2L1593.0 510.9" stroke="#000" stroke-width="1.9" fill="none" stroke-linejoin="round"/>
<path d="M1594.1 515.3L1596.3 522.8L1598.8 537.8L1602.0 546.3L1605.7 554.9L1608.7 564.5L1607.8 575.9L1598.8 578.4L1588.1 583.4L1583.8 585.3" stroke="#000" stroke-width="1.8" fill="none" stroke-linejoin="round"/>
<path d="M1650.8 382.1L1652.1 378.5L1654.7 376.0L1658.5 373.4L1661.1 370.3L1665.0 368.4L1668.8 368.1L1672.7 369.7L1674.6 367.1L1681.0 366.5L1687.4 365.8L1691.3 364.5L1694.5 362.0L1698.4 359.4L1703.5 358.0L1705.4 357.7L1702.9 360.0L1700.3 362.6L1703.5 362.2L1705.4 363.9L1709.9 362.5L1712.5 362.8L1709.9 364.5L1703.5 367.1L1697.1 369.7L1690.6 372.2L1684.2 374.8L1677.8 377.4L1671.4 379.3L1665.0 380.8L1658.5 381.2L1653.4 381.9Z" stroke="#000" stroke-width="2.5" fill="none" stroke-linejoin="round"/>
<path d="M1874.3 249.3L1875.1 257.2L1877.4 263.2L1879.3 259.8L1883.6 261.5L1886.4 268.2L1890.1 273.1L1896.3 269.4L1900.6 263.2L1907.6 258.6L1914.7 253.8L1918.7 249.3ZM1740.9 352.6L1745.0 350.0L1748.0 347.7L1752.5 350.0L1751.7 352.2L1746.5 352.6L1742.0 354.6Z" stroke="#000" stroke-width="1.8" fill="none" stroke-linejoin="round"/>
<path d="M1647.0 376.9L1650.2 374.7L1653.4 372.1L1656.0 370.2L1658.5 369.2L1661.1 370.5L1658.5 373.4L1654.7 376.0L1652.1 378.5L1650.2 381.1L1647.6 382.4L1644.4 384.3L1643.1 383.0L1645.0 379.8Z" fill="#000"/>
<path d="M1755.5 352.6L1760.0 354.5L1763.7 353.7L1764.1 350.3L1766.3 354.5L1764.5 356.3L1760.0 356.0L1756.2 353.7ZM1719.2 357.0L1720.8 356.8L1721.5 359.3L1719.9 360.2L1718.4 359.3Z" stroke="#000" stroke-width="1.6" fill="#000" stroke-linejoin="round"/>
<path d="M1766.5 249.3L1792.8 249.3L1791.4 251.6L1787.1 252.1L1785.7 254.7L1782.0 255.2L1780.1 258.1L1776.4 258.1L1774.1 261.2L1770.4 260.3L1767.0 263.2L1763.4 262.6L1760.0 265.1L1756.6 263.7L1756.3 260.9L1758.6 258.6L1759.4 255.8L1762.2 255.2L1763.6 252.4L1766.2 251.3Z" fill="#000"/>
<path d="M1770.7 251.0L1773.6 250.1L1776.4 251.3L1773.6 252.7ZM1777.5 250.1L1779.5 249.9L1779.2 251.6Z" fill="#d2b48c"/>
<path d="M1758.7 263.6L1757.3 268.5L1754.5 270.7L1752.3 274.9L1749.5 277.7" stroke="#000" stroke-width="2.6" fill="none" stroke-linejoin="round"/>
<g fill="#000"><circle cx="1790.5" cy="253.5" r="1.2"/><circle cx="1796.7" cy="255.8" r="1.5"/><circle cx="1799.9" cy="253.5" r="0.9"/><circle cx="1794.5" cy="254.1" r="0.8"/></g>
<path d="M1759.9 264.9L1755.7 266.6L1754.3 270.2L1752.6 273.8" stroke="#000" stroke-width="3" fill="none" stroke-linejoin="round"/>
<path d="M1734.1 312.5L1739.0 311.7L1739.7 316.2L1735.2 317.0ZM1744.2 300.5L1748.7 300.1L1749.1 303.5L1745.7 304.2ZM1724.7 335.0L1731.5 336.5L1732.2 341.0L1730.4 348.5L1725.5 349.2L1723.2 342.5Z" fill="#000"/>
<path d="M1744.2 337.4L1740.5 341.0L1736.7 344.0L1733.0 346.4M1737.3 350.1L1742.7 346.2L1746.1 342.5M1758.1 324.6L1760.3 323.9L1763.3 324.9L1765.8 327.9L1767.2 332.0L1767.7 336.5L1767.2 341.7L1765.4 345.6" stroke="#000" stroke-width="2.8" fill="none" stroke-linejoin="round" stroke-linecap="round"/>
<path d="M1691.3 364.5L1694.5 362.0L1698.4 359.4L1703.5 358.3L1700.9 361.8L1703.5 362.2L1699.6 367.0L1695.8 368.9L1690.6 369.5L1689.4 367.0Z" fill="#000"/>
<path d="M1695.8 365.7L1700.9 364.4L1705.4 363.9" stroke="#d2b48c" stroke-width="1.2" fill="none"/>
<path d="M1661.1 370.3L1665.0 368.4L1668.8 368.1L1672.7 369.7M1654.7 370.2L1650.8 373.4L1647.0 376.6L1644.4 379.8L1642.5 383.0L1641.7 385.0L1644.4 386.9M1722.8 350.9L1729.2 347.1L1735.6 346.1" stroke="#000" stroke-width="3" fill="none" stroke-linejoin="round" stroke-linecap="round"/>
<path d="M1658.5 381.1L1671.4 379.3L1684.2 374.8L1697.1 369.7L1709.9 364.5" stroke="#000" stroke-width="2.6" fill="none" stroke-linejoin="round"/>
<path d="M1649.3 400.1L1647.4 404.6L1646.1 409.8L1644.8 413.6L1641.6 417.5L1639.0 420.7L1635.8 424.6L1632.6 427.8L1630.7 431.0L1628.1 434.8L1626.2 438.7L1624.3 442.7" stroke="#000" stroke-width="2.8" fill="none" stroke-linejoin="round"/>
<path d="M1620.0 451.5L1620.7 457.5L1619.2 465.0L1616.2 471.0L1612.5 477.7L1608.0 484.5" stroke="#000" stroke-width="2.6" fill="none" stroke-linejoin="round"/>
<path d="M1874.8 250.1L1875.7 257.2L1877.9 262.9L1879.6 260.3L1883.3 262.0L1886.1 268.5L1890.4 272.5L1896.0 268.8L1900.3 262.9" stroke="#000" stroke-width="3.6" fill="none" stroke-linejoin="round" stroke-linecap="round"/>
<path d="M1900.3 262.9L1907.4 258.3L1914.4 253.5L1917.8 250.1" stroke="#000" stroke-width="2.6" fill="none" stroke-linejoin="round" stroke-linecap="round"/>
<g fill="#000"><circle cx="1879.6" cy="272.5" r="1.5"/><circle cx="1880.2" cy="269.4" r="1.1"/><circle cx="1876.0" cy="262.9" r="0.9"/></g>
<circle cx="1747.4" cy="289.5" r="1.1" fill="#000"/>
<circle cx="1771.3" cy="444.7" r="4.1" fill="#ff0000" stroke="#000" stroke-width="1.3"/>
</g>
<path d="M1768 248.9H1966.5V584.1H1563.8" stroke="#000" stroke-width="1.5" fill="none"/>
<path d="M1593.4 248.9v-8.9M1593.4 584.1v8.9M1650.8 248.9v-8.9M1650.8 584.1v8.9M1708.1 248.9v-8.9M1708.1 584.1v8.9M1765.4 248.9v-8.9M1765.4 584.1v8.9M1822.7 248.9v-8.9M1822.7 584.1v8.9M1880.0 248.9v-8.9M1880.0 584.1v8.9M1937.4 248.9v-8.9M1937.4 584.1v8.9M1563.8 548.9h-8.9M1966.5 548.9h8.9M1563.8 477.1h-8.9M1966.5 477.1h8.9M1563.8 403.3h-8.9M1966.5 403.3h8.9M1563.8 327.4h-8.9M1966.5 327.4h8.9M1563.8 249.0h-8.9M1966.5 249.0h8.9" stroke="#000" stroke-width="3.0" fill="none"/><path d="M1564.8 248.9v-3.0M1564.8 584.1v3.0M1579.1 248.9v-3.0M1579.1 584.1v3.0M1607.8 248.9v-3.0M1607.8 584.1v3.0M1622.1 248.9v-3.0M1622.1 584.1v3.0M1636.4 248.9v-3.0M1636.4 584.1v3.0M1665.1 248.9v-3.0M1665.1 584.1v3.0M1679.4 248.9v-3.0M1679.4 584.1v3.0M1693.8 248.9v-3.0M1693.8 584.1v3.0M1722.4 248.9v-3.0M1722.4 584.1v3.0M1736.7 248.9v-3.0M1736.7 584.1v3.0M1751.1 248.9v-3.0M1751.1 584.1v3.0M1779.7 248.9v-3.0M1779.7 584.1v3.0M1794.1 248.9v-3.0M1794.1 584.1v3.0M1808.4 248.9v-3.0M1808.4 584.1v3.0M1837.1 248.9v-3.0M1837.1 584.1v3.0M1851.4 248.9v-3.0M1851.4 584.1v3.0M1865.7 248.9v-3.0M1865.7 584.1v3.0M1894.4 248.9v-3.0M1894.4 584.1v3.0M1908.7 248.9v-3.0M1908.7 584.1v3.0M1923.0 248.9v-3.0M1923.0 584.1v3.0M1951.7 248.9v-3.0M1951.7 584.1v3.0M1966.0 248.9v-3.0M1966.0 584.1v3.0M1563.8 584.1h-3.0M1966.5 584.1h3.0M1563.8 566.5h-3.0M1966.5 566.5h3.0M1563.8 531.1h-3.0M1966.5 531.1h3.0M1563.8 513.2h-3.0M1966.5 513.2h3.0M1563.8 495.2h-3.0M1966.5 495.2h3.0M1563.8 458.9h-3.0M1966.5 458.9h3.0M1563.8 440.5h-3.0M1966.5 440.5h3.0M1563.8 422.0h-3.0M1966.5 422.0h3.0M1563.8 384.6h-3.0M1966.5 384.6h3.0M1563.8 365.7h-3.0M1966.5 365.7h3.0M1563.8 346.6h-3.0M1966.5 346.6h3.0M1563.8 308.0h-3.0M1966.5 308.0h3.0M1563.8 288.5h-3.0M1966.5 288.5h3.0M1563.8 268.8h-3.0M1966.5 268.8h3.0" stroke="#000" stroke-width="1.6" fill="none"/>
<text x="1494.00" y="258.90" font-size="23.11" textLength="54.60" lengthAdjust="spacingAndGlyphs" fill="#000">44°N</text>
<text x="1494.00" y="337.29" font-size="23.11" textLength="54.60" lengthAdjust="spacingAndGlyphs" fill="#000">42°N</text>
<text x="1494.00" y="413.25" font-size="23.11" textLength="54.60" lengthAdjust="spacingAndGlyphs" fill="#000">40°N</text>
<text x="1494.00" y="487.01" font-size="23.11" textLength="54.60" lengthAdjust="spacingAndGlyphs" fill="#000">38°N</text>
<text x="1494.00" y="558.79" font-size="23.11" textLength="54.60" lengthAdjust="spacingAndGlyphs" fill="#000">36°N</text>
<g transform="rotate(-45 1590.8 629.5)">
<text x="1559.50" y="637.70" font-size="23.11" textLength="62.68" lengthAdjust="spacingAndGlyphs" fill="#000">76°W</text>
</g>
<g transform="rotate(-45 1648.2 629.5)">
<text x="1616.82" y="637.70" font-size="23.11" textLength="62.68" lengthAdjust="spacingAndGlyphs" fill="#000">74°W</text>
</g>
<g transform="rotate(-45 1705.5 629.5)">
<text x="1674.14" y="637.70" font-size="23.11" textLength="62.68" lengthAdjust="spacingAndGlyphs" fill="#000">72°W</text>
</g>
<g transform="rotate(-45 1762.8 629.5)">
<text x="1731.46" y="637.70" font-size="23.11" textLength="62.68" lengthAdjust="spacingAndGlyphs" fill="#000">70°W</text>
</g>
<g transform="rotate(-45 1820.1 629.5)">
<text x="1788.78" y="637.70" font-size="23.11" textLength="62.68" lengthAdjust="spacingAndGlyphs" fill="#000">68°W</text>
</g>
<g transform="rotate(-45 1877.4 629.5)">
<text x="1846.10" y="637.70" font-size="23.11" textLength="62.68" lengthAdjust="spacingAndGlyphs" fill="#000">66°W</text>
</g>
<g transform="rotate(-45 1934.8 629.5)">
<text x="1903.42" y="637.70" font-size="23.11" textLength="62.68" lengthAdjust="spacingAndGlyphs" fill="#000">64°W</text>
</g>
<rect x="1635.2" y="641.5" width="260.7" height="177" rx="4.5" ry="4.5" fill="#fff" fill-opacity="0.8" stroke="#ccc" stroke-width="1.5"/>
<path d="M1643.2 660.3H1690.6" stroke="#0000ff" stroke-width="2.5"/><circle cx="1666.8" cy="660.3" r="6" fill="#0000ff"/>
<text x="1706.40" y="668.00" font-size="23.11" textLength="69.56" lengthAdjust="spacingAndGlyphs" fill="#000">sp066</text>
<path d="M1643.2 695.0H1690.6" stroke="#ff0000" stroke-width="2.5"/><circle cx="1666.8" cy="695.0" r="6" fill="#ff0000"/>
<text x="1706.40" y="702.70" font-size="23.11" textLength="72.92" lengthAdjust="spacingAndGlyphs" fill="#000">RTOFS</text>
<path d="M1643.2 729.2H1690.6" stroke="#ffa500" stroke-width="2.5"/><circle cx="1666.8" cy="729.2" r="6" fill="#ffa500"/>
<text y="736.90" font-size="23.11" fill="#000"><tspan x="1706.40" textLength="72.92" lengthAdjust="spacingAndGlyphs">RTOFS</tspan> <tspan x="1786.54" textLength="100.42" lengthAdjust="spacingAndGlyphs">(Parallel)</tspan></text>
<path d="M1643.2 763.3H1690.6" stroke="#008000" stroke-width="2.5"/><circle cx="1666.8" cy="763.3" r="6" fill="#008000"/>
<text x="1706.40" y="771.00" font-size="23.11" textLength="58.29" lengthAdjust="spacingAndGlyphs" fill="#000">ESPC</text>
<path d="M1643.2 797.3H1690.6" stroke="#ff00ff" stroke-width="2.5"/><circle cx="1666.8" cy="797.3" r="6" fill="#ff00ff"/>
<text x="1706.40" y="805.00" font-size="23.11" textLength="83.78" lengthAdjust="spacingAndGlyphs" fill="#000">CMEMS</text>
</g>
</svg>
</body></html>
